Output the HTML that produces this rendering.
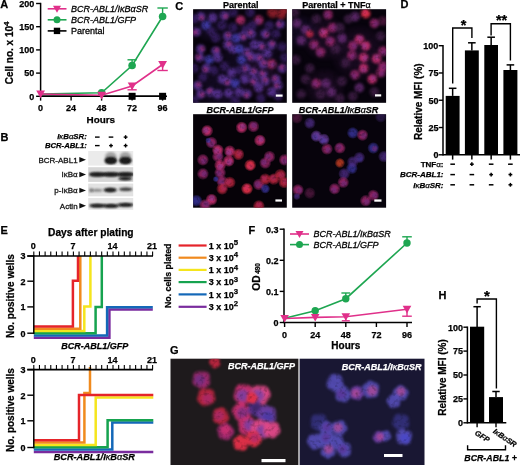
<!DOCTYPE html>
<html lang="en"><head><meta charset="utf-8"><title>Figure</title>
<style>
html,body{margin:0;padding:0;background:#fff;}
body{width:520px;height:465px;overflow:hidden;}
svg{display:block;font-family:"Liberation Sans",Arial,Helvetica,sans-serif;}
</style></head><body>
<svg width="520" height="465" viewBox="0 0 520 465">
<defs>
<filter id="b1" x="-50%" y="-50%" width="200%" height="200%"><feGaussianBlur stdDeviation="1.1"/></filter>
<filter id="b2" x="-50%" y="-50%" width="200%" height="200%"><feGaussianBlur stdDeviation="1.6"/></filter>
<filter id="b3" x="-50%" y="-50%" width="200%" height="200%"><feGaussianBlur stdDeviation="0.8"/></filter>
<filter id="nzA" filterUnits="userSpaceOnUse" x="185" y="0" width="210" height="215" color-interpolation-filters="sRGB">
<feGaussianBlur in="SourceGraphic" stdDeviation="0.9" result="b"/>
<feTurbulence type="fractalNoise" baseFrequency="0.3" numOctaves="2" seed="4" result="t"/>
<feColorMatrix in="t" type="matrix" values="0.8 0 0 0 0.58  0.8 0 0 0 0.58  0.8 0 0 0 0.58  0 0 0 0 1" result="n"/>
<feComposite in="b" in2="n" operator="arithmetic" k1="1" k2="0" k3="0" k4="0"/>
</filter>
<filter id="nzB" filterUnits="userSpaceOnUse" x="185" y="0" width="210" height="215" color-interpolation-filters="sRGB">
<feGaussianBlur in="SourceGraphic" stdDeviation="0.7" result="b"/>
<feTurbulence type="fractalNoise" baseFrequency="0.3" numOctaves="2" seed="9" result="t"/>
<feColorMatrix in="t" type="matrix" values="0.8 0 0 0 0.58  0.8 0 0 0 0.58  0.8 0 0 0 0.58  0 0 0 0 1" result="n"/>
<feComposite in="b" in2="n" operator="arithmetic" k1="1" k2="0" k3="0" k4="0"/>
</filter>
<filter id="nzG" filterUnits="userSpaceOnUse" x="160" y="350" width="275" height="120" color-interpolation-filters="sRGB">
<feGaussianBlur in="SourceGraphic" stdDeviation="0.9" result="b"/>
<feTurbulence type="fractalNoise" baseFrequency="0.25" numOctaves="2" seed="5" result="t"/>
<feColorMatrix in="t" type="matrix" values="0.7 0 0 0 0.65  0.7 0 0 0 0.65  0.7 0 0 0 0.65  0 0 0 0 1" result="n"/>
<feComposite in="b" in2="n" operator="arithmetic" k1="1" k2="0" k3="0" k4="0"/>
</filter>
<filter id="bb" x="-20%" y="-50%" width="140%" height="200%"><feGaussianBlur stdDeviation="0.9"/></filter>
<clipPath id="c1"><rect x="193.1" y="9.2" width="93.7" height="93.6"/></clipPath>
<clipPath id="c2"><rect x="292.2" y="9.2" width="93.9" height="93.6"/></clipPath>
<clipPath id="c3"><rect x="193.1" y="114.2" width="93.7" height="93.5"/></clipPath>
<clipPath id="c4"><rect x="292.2" y="114.2" width="93.9" height="93.5"/></clipPath>
<clipPath id="g1"><rect x="170.5" y="358.7" width="127.9" height="107"/></clipPath>
<clipPath id="g2"><rect x="299.6" y="358.7" width="124.9" height="107"/></clipPath>
</defs>
<rect x="0" y="0" width="520" height="465" fill="#fff"/>

<g id="panelA">
<text x="0.3" y="8.3" font-size="11" font-weight="bold" font-style="normal" text-anchor="start" fill="#000" stroke="#000" stroke-width="0.25">A</text>
<line x1="40.6" y1="2.8" x2="40.6" y2="97.05" stroke="#000" stroke-width="1.5" stroke-linecap="butt"/>
<line x1="40.6" y1="96.3" x2="167" y2="96.3" stroke="#000" stroke-width="1.5" stroke-linecap="butt"/>
<line x1="36.1" y1="3.5" x2="40.6" y2="3.5" stroke="#000" stroke-width="1.4" stroke-linecap="butt"/>
<text x="34.300000000000004" y="6.8" font-size="9" font-weight="bold" font-style="normal" text-anchor="end" fill="#000" stroke="#000" stroke-width="0.25">200</text>
<line x1="36.1" y1="26.7" x2="40.6" y2="26.7" stroke="#000" stroke-width="1.4" stroke-linecap="butt"/>
<text x="34.300000000000004" y="30.0" font-size="9" font-weight="bold" font-style="normal" text-anchor="end" fill="#000" stroke="#000" stroke-width="0.25">150</text>
<line x1="36.1" y1="49.9" x2="40.6" y2="49.9" stroke="#000" stroke-width="1.4" stroke-linecap="butt"/>
<text x="34.300000000000004" y="53.199999999999996" font-size="9" font-weight="bold" font-style="normal" text-anchor="end" fill="#000" stroke="#000" stroke-width="0.25">100</text>
<line x1="36.1" y1="73.1" x2="40.6" y2="73.1" stroke="#000" stroke-width="1.4" stroke-linecap="butt"/>
<text x="34.300000000000004" y="76.39999999999999" font-size="9" font-weight="bold" font-style="normal" text-anchor="end" fill="#000" stroke="#000" stroke-width="0.25">50</text>
<line x1="36.1" y1="96.3" x2="40.6" y2="96.3" stroke="#000" stroke-width="1.4" stroke-linecap="butt"/>
<text x="34.300000000000004" y="99.6" font-size="9" font-weight="bold" font-style="normal" text-anchor="end" fill="#000" stroke="#000" stroke-width="0.25">0</text>
<line x1="40.6" y1="96.3" x2="40.6" y2="100.6" stroke="#000" stroke-width="1.4" stroke-linecap="butt"/>
<text x="40.6" y="111.2" font-size="9" font-weight="bold" font-style="normal" text-anchor="middle" fill="#000" stroke="#000" stroke-width="0.25">0</text>
<line x1="71.1" y1="96.3" x2="71.1" y2="100.6" stroke="#000" stroke-width="1.4" stroke-linecap="butt"/>
<text x="71.1" y="111.2" font-size="9" font-weight="bold" font-style="normal" text-anchor="middle" fill="#000" stroke="#000" stroke-width="0.25">24</text>
<line x1="101.6" y1="96.3" x2="101.6" y2="100.6" stroke="#000" stroke-width="1.4" stroke-linecap="butt"/>
<text x="101.6" y="111.2" font-size="9" font-weight="bold" font-style="normal" text-anchor="middle" fill="#000" stroke="#000" stroke-width="0.25">48</text>
<line x1="132.1" y1="96.3" x2="132.1" y2="100.6" stroke="#000" stroke-width="1.4" stroke-linecap="butt"/>
<text x="132.1" y="111.2" font-size="9" font-weight="bold" font-style="normal" text-anchor="middle" fill="#000" stroke="#000" stroke-width="0.25">72</text>
<line x1="162.6" y1="96.3" x2="162.6" y2="100.6" stroke="#000" stroke-width="1.4" stroke-linecap="butt"/>
<text x="162.6" y="111.2" font-size="9" font-weight="bold" font-style="normal" text-anchor="middle" fill="#000" stroke="#000" stroke-width="0.25">96</text>
<text x="100.8" y="122.8" font-size="9.9" font-weight="bold" font-style="normal" text-anchor="middle" fill="#000" stroke="#000" stroke-width="0.25">Hours</text>
<text transform="translate(13.3 84.3) rotate(-90)" font-size="10" font-weight="bold" stroke="#000" stroke-width="0.25">Cell no. x 10<tspan dy="-4.6" font-size="8">4</tspan></text>
<line x1="40.6" y1="96.3" x2="162.6" y2="96.3" stroke="#000" stroke-width="1.5" stroke-linecap="butt"/>
<rect x="128.6" y="92.8" width="7" height="7" fill="#000"/>
<rect x="159.1" y="92.8" width="7" height="7" fill="#000"/>
<polyline points="40.6,94.0 101.6,92.8 132.1,65.5 162.6,16.5" fill="none" stroke="#1ea651" stroke-width="1.6" stroke-linejoin="miter" stroke-linecap="butt"/>
<line x1="132.1" y1="65.5" x2="132.1" y2="59.8" stroke="#1ea651" stroke-width="1.4" stroke-linecap="butt"/>
<line x1="127.5" y1="59.8" x2="136.7" y2="59.8" stroke="#1ea651" stroke-width="1.4" stroke-linecap="butt"/>
<line x1="162.6" y1="16.5" x2="162.6" y2="8" stroke="#1ea651" stroke-width="1.4" stroke-linecap="butt"/>
<line x1="157.4" y1="8" x2="167.79999999999998" y2="8" stroke="#1ea651" stroke-width="1.4" stroke-linecap="butt"/>
<circle cx="101.6" cy="92.8" r="3.8" fill="#1ea651"/>
<circle cx="132.1" cy="65.5" r="3.8" fill="#1ea651"/>
<circle cx="162.6" cy="16.5" r="3.8" fill="#1ea651"/>
<polyline points="40.6,94.0 101.6,95.2 132.1,86 162.6,64.5" fill="none" stroke="#e0308a" stroke-width="1.6" stroke-linejoin="miter" stroke-linecap="butt"/>
<line x1="132.1" y1="86" x2="132.1" y2="89.8" stroke="#e0308a" stroke-width="1.4" stroke-linecap="butt"/>
<line x1="127.5" y1="89.8" x2="136.7" y2="89.8" stroke="#e0308a" stroke-width="1.4" stroke-linecap="butt"/>
<line x1="162.6" y1="64.5" x2="162.6" y2="70.5" stroke="#e0308a" stroke-width="1.4" stroke-linecap="butt"/>
<line x1="157.4" y1="70.5" x2="167.79999999999998" y2="70.5" stroke="#e0308a" stroke-width="1.4" stroke-linecap="butt"/>
<polygon points="36.2,90.48 45.0,90.48 40.6,98.18" fill="#e0308a"/>
<polygon points="97.19999999999999,91.68 106.0,91.68 101.6,99.38" fill="#e0308a"/>
<polygon points="127.69999999999999,82.48 136.5,82.48 132.1,90.18" fill="#e0308a"/>
<polygon points="158.2,60.98 167.0,60.98 162.6,68.68" fill="#e0308a"/>
<line x1="47.7" y1="8.8" x2="66.5" y2="8.8" stroke="#e0308a" stroke-width="1.6" stroke-linecap="butt"/>
<line x1="47.7" y1="19.8" x2="66.5" y2="19.8" stroke="#1ea651" stroke-width="1.6" stroke-linecap="butt"/>
<line x1="47.7" y1="30.9" x2="66.5" y2="30.9" stroke="#000" stroke-width="1.6" stroke-linecap="butt"/>
<polygon points="53.0,5.8 61.0,5.8 57,12.8" fill="#e0308a"/>
<circle cx="57" cy="19.8" r="3.5" fill="#1ea651"/>
<rect x="53.8" y="27.7" width="6.4" height="6.4" fill="#000"/>
<text x="71" y="12.0" font-size="9" font-weight="normal" font-style="italic" text-anchor="start" fill="#000" stroke="#000" stroke-width="0.28">BCR-ABL1/I&#954;B&#945;SR</text>
<text x="71" y="23.0" font-size="9" font-weight="normal" font-style="italic" text-anchor="start" fill="#000" stroke="#000" stroke-width="0.28">BCR-ABL1/GFP</text>
<text x="71" y="34.2" font-size="9" font-weight="normal" font-style="normal" text-anchor="start" fill="#000" stroke="#000" stroke-width="0.28">Parental</text>
</g>
<clipPath id="cb"><rect x="88.2" y="151.0" width="45" height="14.6"/><rect x="88.2" y="167.2" width="45" height="14.7"/><rect x="88.2" y="183.6" width="45" height="12.7"/><rect x="88.2" y="198.0" width="45" height="11.8"/></clipPath>
<g id="panelB">
<text x="0.4" y="141.3" font-size="11" font-weight="bold" font-style="normal" text-anchor="start" fill="#000" stroke="#000" stroke-width="0.25">B</text>
<text x="86.8" y="139.3" font-size="7.8" font-weight="bold" font-style="italic" text-anchor="end" fill="#000" stroke="#000" stroke-width="0.25">I<tspan font-weight="normal">&#954;</tspan>B<tspan font-weight="normal">&#945;</tspan>SR:</text>
<text x="86.8" y="148.4" font-size="7.7" font-weight="bold" font-style="italic" text-anchor="end" fill="#000" stroke="#000" stroke-width="0.25">BCR-ABL1:</text>
<line x1="95.0" y1="137.1" x2="99.6" y2="137.1" stroke="#000" stroke-width="1.4" stroke-linecap="butt"/>
<line x1="108.7" y1="137.1" x2="113.3" y2="137.1" stroke="#000" stroke-width="1.4" stroke-linecap="butt"/>
<line x1="123.69999999999999" y1="137.1" x2="127.5" y2="137.1" stroke="#000" stroke-width="1.4" stroke-linecap="butt"/>
<line x1="125.6" y1="135.2" x2="125.6" y2="139.0" stroke="#000" stroke-width="1.4" stroke-linecap="butt"/>
<line x1="95.0" y1="145.6" x2="99.6" y2="145.6" stroke="#000" stroke-width="1.4" stroke-linecap="butt"/>
<line x1="109.1" y1="145.6" x2="112.9" y2="145.6" stroke="#000" stroke-width="1.4" stroke-linecap="butt"/>
<line x1="111.0" y1="143.7" x2="111.0" y2="147.5" stroke="#000" stroke-width="1.4" stroke-linecap="butt"/>
<line x1="123.69999999999999" y1="145.6" x2="127.5" y2="145.6" stroke="#000" stroke-width="1.4" stroke-linecap="butt"/>
<line x1="125.6" y1="143.7" x2="125.6" y2="147.5" stroke="#000" stroke-width="1.4" stroke-linecap="butt"/>
<rect x="88.2" y="151.0" width="45" height="14.6" fill="#ebebeb"/>
<polygon points="79.3,157.10000000000002 86,159.8 79.3,162.5" fill="#111"/>
<text x="77.6" y="162.60000000000002" font-size="8" font-weight="normal" font-style="normal" text-anchor="end" fill="#111" stroke="#111" stroke-width="0.28">BCR-ABL1</text>
<rect x="88.2" y="167.2" width="45" height="14.7" fill="#d6d6d6"/>
<polygon points="79.3,171.8 86,174.5 79.3,177.2" fill="#111"/>
<text x="77.6" y="177.3" font-size="8" font-weight="normal" font-style="normal" text-anchor="end" fill="#111" stroke="#111" stroke-width="0.28">I&#954;B&#945;</text>
<rect x="88.2" y="183.6" width="45" height="12.7" fill="#e2e2e2"/>
<polygon points="79.3,187.70000000000002 86,190.4 79.3,193.1" fill="#111"/>
<text x="77.6" y="193.20000000000002" font-size="8" font-weight="normal" font-style="normal" text-anchor="end" fill="#111" stroke="#111" stroke-width="0.28">p-I&#954;B&#945;</text>
<rect x="88.2" y="198.0" width="45" height="11.8" fill="#e6e6e6"/>
<polygon points="79.3,203.0 86,205.7 79.3,208.39999999999998" fill="#111"/>
<text x="77.6" y="208.5" font-size="8" font-weight="normal" font-style="normal" text-anchor="end" fill="#111" stroke="#111" stroke-width="0.28">Actin</text>
<g clip-path="url(#cb)">
<ellipse cx="110.8" cy="157" rx="5.75" ry="5.0" fill="#1a1a1a" opacity="0.35" filter="url(#bb)"/>
<ellipse cx="125.4" cy="157" rx="5.75" ry="5.0" fill="#1a1a1a" opacity="0.35" filter="url(#bb)"/>
<ellipse cx="110.8" cy="160.6" rx="6.25" ry="3.7" fill="#1a1a1a" opacity="1.0" filter="url(#bb)"/>
<ellipse cx="110.8" cy="160.8" rx="5.0" ry="2.5" fill="#1a1a1a" opacity="0.9" filter="url(#bb)"/>
<ellipse cx="125.4" cy="160.6" rx="6.25" ry="3.7" fill="#1a1a1a" opacity="1.0" filter="url(#bb)"/>
<ellipse cx="125.4" cy="160.8" rx="5.0" ry="2.5" fill="#1a1a1a" opacity="0.9" filter="url(#bb)"/>
<ellipse cx="97.3" cy="174.4" rx="8.5" ry="2.2" fill="#1a1a1a" opacity="1.0" filter="url(#bb)"/>
<ellipse cx="97.3" cy="174.4" rx="7.0" ry="1.5" fill="#1a1a1a" opacity="0.9" filter="url(#bb)"/>
<ellipse cx="111.0" cy="174.4" rx="8.5" ry="2.2" fill="#1a1a1a" opacity="1.0" filter="url(#bb)"/>
<ellipse cx="111.0" cy="174.4" rx="7.0" ry="1.5" fill="#1a1a1a" opacity="0.9" filter="url(#bb)"/>
<ellipse cx="125.6" cy="174.4" rx="8.5" ry="2.2" fill="#1a1a1a" opacity="1.0" filter="url(#bb)"/>
<ellipse cx="125.6" cy="174.4" rx="7.0" ry="1.5" fill="#1a1a1a" opacity="0.9" filter="url(#bb)"/>
<ellipse cx="125.2" cy="178.6" rx="7.0" ry="1.6" fill="#1a1a1a" opacity="0.95" filter="url(#bb)"/>
<ellipse cx="125.2" cy="178.6" rx="5.5" ry="1.0" fill="#1a1a1a" opacity="0.8" filter="url(#bb)"/>
<ellipse cx="97" cy="190.3" rx="5.5" ry="1.5" fill="#1a1a1a" opacity="0.45" filter="url(#bb)"/>
<ellipse cx="91" cy="190.3" rx="2.0" ry="2.0" fill="#1a1a1a" opacity="0.5" filter="url(#bb)"/>
<ellipse cx="110.2" cy="190.0" rx="6.75" ry="2.2" fill="#1a1a1a" opacity="0.95" filter="url(#bb)"/>
<ellipse cx="110.2" cy="190.0" rx="5.0" ry="1.3" fill="#1a1a1a" opacity="0.7" filter="url(#bb)"/>
<ellipse cx="125.8" cy="189.2" rx="6.75" ry="1.8" fill="#1a1a1a" opacity="0.85" filter="url(#bb)"/>
<ellipse cx="97.3" cy="205.6" rx="8.25" ry="1.9" fill="#1a1a1a" opacity="0.95" filter="url(#bb)"/>
<ellipse cx="97.3" cy="205.6" rx="6.5" ry="1.2" fill="#1a1a1a" opacity="0.8" filter="url(#bb)"/>
<ellipse cx="111.0" cy="205.8" rx="8.25" ry="1.9" fill="#1a1a1a" opacity="0.95" filter="url(#bb)"/>
<ellipse cx="111.0" cy="205.8" rx="6.5" ry="1.2" fill="#1a1a1a" opacity="0.8" filter="url(#bb)"/>
<ellipse cx="125.6" cy="204.8" rx="8.25" ry="1.9" fill="#1a1a1a" opacity="0.95" filter="url(#bb)"/>
<ellipse cx="125.6" cy="204.8" rx="6.5" ry="1.2" fill="#1a1a1a" opacity="0.8" filter="url(#bb)"/>
</g>
</g>
<defs>
<radialGradient id="gp"><stop offset="0" stop-color="#53308f" stop-opacity="0.75"/><stop offset="0.5" stop-color="#53308f" stop-opacity="0.68"/><stop offset="0.8" stop-color="#53308f" stop-opacity="0.34"/><stop offset="1" stop-color="#53308f" stop-opacity="0"/></radialGradient>
<radialGradient id="gpU"><stop offset="0" stop-color="#7040a8" stop-opacity="0.9"/><stop offset="0.5" stop-color="#7040a8" stop-opacity="0.81"/><stop offset="0.8" stop-color="#7040a8" stop-opacity="0.41"/><stop offset="1" stop-color="#7040a8" stop-opacity="0"/></radialGradient>
<radialGradient id="gb"><stop offset="0" stop-color="#3d38a8" stop-opacity="0.8"/><stop offset="0.5" stop-color="#3d38a8" stop-opacity="0.72"/><stop offset="0.8" stop-color="#3d38a8" stop-opacity="0.36"/><stop offset="1" stop-color="#3d38a8" stop-opacity="0"/></radialGradient>
<radialGradient id="gbU"><stop offset="0" stop-color="#4a48cc" stop-opacity="0.95"/><stop offset="0.5" stop-color="#4a48cc" stop-opacity="0.85"/><stop offset="0.8" stop-color="#4a48cc" stop-opacity="0.43"/><stop offset="1" stop-color="#4a48cc" stop-opacity="0"/></radialGradient>
<radialGradient id="gm"><stop offset="0" stop-color="#a82a74" stop-opacity="0.85"/><stop offset="0.5" stop-color="#a82a74" stop-opacity="0.77"/><stop offset="0.8" stop-color="#a82a74" stop-opacity="0.38"/><stop offset="1" stop-color="#a82a74" stop-opacity="0"/></radialGradient>
<radialGradient id="gmU"><stop offset="0" stop-color="#cc3072" stop-opacity="0.95"/><stop offset="0.5" stop-color="#cc3072" stop-opacity="0.85"/><stop offset="0.8" stop-color="#cc3072" stop-opacity="0.43"/><stop offset="1" stop-color="#cc3072" stop-opacity="0"/></radialGradient>
<radialGradient id="gr"><stop offset="0" stop-color="#c02640" stop-opacity="0.9"/><stop offset="0.5" stop-color="#c02640" stop-opacity="0.81"/><stop offset="0.8" stop-color="#c02640" stop-opacity="0.41"/><stop offset="1" stop-color="#c02640" stop-opacity="0"/></radialGradient>
<radialGradient id="grU"><stop offset="0" stop-color="#e03048" stop-opacity="1.0"/><stop offset="0.5" stop-color="#e03048" stop-opacity="0.90"/><stop offset="0.8" stop-color="#e03048" stop-opacity="0.45"/><stop offset="1" stop-color="#e03048" stop-opacity="0"/></radialGradient>
<radialGradient id="gd"><stop offset="0" stop-color="#35205c" stop-opacity="0.7"/><stop offset="0.5" stop-color="#35205c" stop-opacity="0.63"/><stop offset="0.8" stop-color="#35205c" stop-opacity="0.32"/><stop offset="1" stop-color="#35205c" stop-opacity="0"/></radialGradient>
<radialGradient id="gk"><stop offset="0" stop-color="#5c1c48" stop-opacity="0.75"/><stop offset="0.5" stop-color="#5c1c48" stop-opacity="0.68"/><stop offset="0.8" stop-color="#5c1c48" stop-opacity="0.34"/><stop offset="1" stop-color="#5c1c48" stop-opacity="0"/></radialGradient>
<radialGradient id="go"><stop offset="0" stop-color="#b83a22" stop-opacity="0.95"/><stop offset="0.5" stop-color="#b83a22" stop-opacity="0.85"/><stop offset="0.8" stop-color="#b83a22" stop-opacity="0.43"/><stop offset="1" stop-color="#b83a22" stop-opacity="0"/></radialGradient>
<radialGradient id="gn"><stop offset="0" stop-color="#2a2870" stop-opacity="0.8"/><stop offset="0.5" stop-color="#2a2870" stop-opacity="0.72"/><stop offset="0.8" stop-color="#2a2870" stop-opacity="0.36"/><stop offset="1" stop-color="#2a2870" stop-opacity="0"/></radialGradient>
<radialGradient id="gkU"><stop offset="0" stop-color="#e04888" stop-opacity="0.95"/><stop offset="0.5" stop-color="#e04888" stop-opacity="0.85"/><stop offset="0.8" stop-color="#e04888" stop-opacity="0.43"/><stop offset="1" stop-color="#e04888" stop-opacity="0"/></radialGradient>
<radialGradient id="gy"><stop offset="0" stop-color="#6e2e7c" stop-opacity="0.8"/><stop offset="0.5" stop-color="#6e2e7c" stop-opacity="0.72"/><stop offset="0.8" stop-color="#6e2e7c" stop-opacity="0.36"/><stop offset="1" stop-color="#6e2e7c" stop-opacity="0"/></radialGradient>
<radialGradient id="gz"><stop offset="0" stop-color="#48224f" stop-opacity="0.75"/><stop offset="0.5" stop-color="#48224f" stop-opacity="0.68"/><stop offset="0.8" stop-color="#48224f" stop-opacity="0.34"/><stop offset="1" stop-color="#48224f" stop-opacity="0"/></radialGradient>
<radialGradient id="gh"><stop offset="0" stop-color="#5a2468" stop-opacity="0.22"/><stop offset="0.5" stop-color="#5a2468" stop-opacity="0.20"/><stop offset="0.8" stop-color="#5a2468" stop-opacity="0.10"/><stop offset="1" stop-color="#5a2468" stop-opacity="0"/></radialGradient>
<radialGradient id="ghU"><stop offset="0" stop-color="#3c2470" stop-opacity="0.22"/><stop offset="0.5" stop-color="#3c2470" stop-opacity="0.20"/><stop offset="0.8" stop-color="#3c2470" stop-opacity="0.10"/><stop offset="1" stop-color="#3c2470" stop-opacity="0"/></radialGradient>
<radialGradient id="gu"><stop offset="0" stop-color="#544cb4" stop-opacity="0.9"/><stop offset="0.5" stop-color="#544cb4" stop-opacity="0.81"/><stop offset="0.8" stop-color="#544cb4" stop-opacity="0.41"/><stop offset="1" stop-color="#544cb4" stop-opacity="0"/></radialGradient>
<radialGradient id="gv"><stop offset="0" stop-color="#34317e" stop-opacity="0.8"/><stop offset="0.5" stop-color="#34317e" stop-opacity="0.72"/><stop offset="0.8" stop-color="#34317e" stop-opacity="0.36"/><stop offset="1" stop-color="#34317e" stop-opacity="0"/></radialGradient>
<radialGradient id="gw"><stop offset="0" stop-color="#b24a96" stop-opacity="0.9"/><stop offset="0.5" stop-color="#b24a96" stop-opacity="0.81"/><stop offset="0.8" stop-color="#b24a96" stop-opacity="0.41"/><stop offset="1" stop-color="#b24a96" stop-opacity="0"/></radialGradient>
<radialGradient id="gq"><stop offset="0" stop-color="#5b3498" stop-opacity="0.9"/><stop offset="0.5" stop-color="#5b3498" stop-opacity="0.81"/><stop offset="0.8" stop-color="#5b3498" stop-opacity="0.41"/><stop offset="1" stop-color="#5b3498" stop-opacity="0"/></radialGradient>
<radialGradient id="gx"><stop offset="0" stop-color="#a0222e" stop-opacity="0.85"/><stop offset="0.5" stop-color="#a0222e" stop-opacity="0.77"/><stop offset="0.8" stop-color="#a0222e" stop-opacity="0.38"/><stop offset="1" stop-color="#a0222e" stop-opacity="0"/></radialGradient>
<radialGradient id="ge"><stop offset="0" stop-color="#3a2068" stop-opacity="0.8"/><stop offset="0.5" stop-color="#3a2068" stop-opacity="0.72"/><stop offset="0.8" stop-color="#3a2068" stop-opacity="0.36"/><stop offset="1" stop-color="#3a2068" stop-opacity="0"/></radialGradient>
<radialGradient id="gc"><stop offset="0" stop-color="#4640b8" stop-opacity="0.85"/><stop offset="0.5" stop-color="#4640b8" stop-opacity="0.77"/><stop offset="0.8" stop-color="#4640b8" stop-opacity="0.38"/><stop offset="1" stop-color="#4640b8" stop-opacity="0"/></radialGradient>
<radialGradient id="gj"><stop offset="0" stop-color="#b02c6a" stop-opacity="0.9"/><stop offset="0.5" stop-color="#b02c6a" stop-opacity="0.81"/><stop offset="0.8" stop-color="#b02c6a" stop-opacity="0.41"/><stop offset="1" stop-color="#b02c6a" stop-opacity="0"/></radialGradient>
</defs>
<rect x="193.1" y="9.2" width="93.70000000000002" height="93.6" fill="#07030c"/>
<g clip-path="url(#c1)"><g filter="url(#nzA)">
<circle cx="250.2" cy="49.0" r="35.1" fill="url(#ghU)"/>
<circle cx="222.2" cy="87.7" r="29.3" fill="url(#ghU)"/>
<circle cx="260.9" cy="76.9" r="23.4" fill="url(#gh)"/>
<circle cx="211.5" cy="23.2" r="20.5" fill="url(#ghU)"/>
<circle cx="200.7" cy="16.7" r="5.9" fill="url(#gq)"/>
<circle cx="201.6" cy="17.9" r="3.4" fill="url(#gj)" opacity="0.60"/>
<circle cx="212.6" cy="17.8" r="5.9" fill="url(#gq)"/>
<circle cx="224.4" cy="15.7" r="5.9" fill="url(#gq)"/>
<circle cx="225.7" cy="16.3" r="3.4" fill="url(#gj)" opacity="0.60"/>
<circle cx="240.5" cy="20.0" r="5.9" fill="url(#gj)"/>
<circle cx="239.1" cy="19.6" r="3.4" fill="url(#gj)" opacity="0.60"/>
<circle cx="258.8" cy="20.0" r="5.9" fill="url(#gj)"/>
<circle cx="257.8" cy="21.0" r="3.4" fill="url(#gq)" opacity="0.60"/>
<circle cx="272.8" cy="12.4" r="7.0" fill="url(#gx)"/>
<circle cx="281.4" cy="14.6" r="5.9" fill="url(#gx)"/>
<circle cx="280.3" cy="24.3" r="5.9" fill="url(#gq)"/>
<circle cx="278.9" cy="24.2" r="3.4" fill="url(#gj)" opacity="0.60"/>
<circle cx="284.6" cy="9.2" r="5.9" fill="url(#gx)"/>
<circle cx="196.4" cy="31.8" r="5.9" fill="url(#gq)"/>
<circle cx="195.1" cy="32.4" r="3.4" fill="url(#gj)" opacity="0.60"/>
<circle cx="206.1" cy="25.3" r="5.9" fill="url(#gc)"/>
<circle cx="245.9" cy="29.6" r="5.9" fill="url(#ge)"/>
<circle cx="265.2" cy="33.9" r="5.9" fill="url(#gq)"/>
<circle cx="266.5" cy="34.7" r="3.4" fill="url(#gj)" opacity="0.60"/>
<circle cx="276.0" cy="33.9" r="5.9" fill="url(#ge)"/>
<circle cx="233.0" cy="27.5" r="5.9" fill="url(#ge)"/>
<circle cx="252.3" cy="25.3" r="5.9" fill="url(#ge)"/>
<circle cx="227.6" cy="36.1" r="5.9" fill="url(#gq)"/>
<circle cx="228.3" cy="34.8" r="3.4" fill="url(#gj)" opacity="0.60"/>
<circle cx="236.2" cy="38.2" r="5.9" fill="url(#gc)"/>
<circle cx="242.7" cy="36.1" r="5.9" fill="url(#gq)"/>
<circle cx="243.7" cy="37.1" r="3.4" fill="url(#gj)" opacity="0.60"/>
<circle cx="251.3" cy="33.9" r="5.9" fill="url(#gq)"/>
<circle cx="250.3" cy="32.9" r="3.4" fill="url(#gj)" opacity="0.60"/>
<circle cx="227.6" cy="44.7" r="5.9" fill="url(#gq)"/>
<circle cx="229.0" cy="44.2" r="3.4" fill="url(#gj)" opacity="0.60"/>
<circle cx="233.0" cy="49.0" r="5.9" fill="url(#gq)"/>
<circle cx="200.7" cy="49.0" r="5.9" fill="url(#gq)"/>
<circle cx="202.2" cy="48.8" r="3.4" fill="url(#gj)" opacity="0.60"/>
<circle cx="215.8" cy="51.1" r="5.9" fill="url(#gq)"/>
<circle cx="216.7" cy="50.0" r="3.4" fill="url(#gj)" opacity="0.60"/>
<circle cx="239.4" cy="49.0" r="5.9" fill="url(#gc)"/>
<circle cx="247.0" cy="52.2" r="5.9" fill="url(#gq)"/>
<circle cx="247.9" cy="53.3" r="3.4" fill="url(#gj)" opacity="0.60"/>
<circle cx="260.9" cy="45.8" r="5.9" fill="url(#gq)"/>
<circle cx="262.0" cy="46.7" r="3.4" fill="url(#gj)" opacity="0.60"/>
<circle cx="271.7" cy="44.7" r="5.9" fill="url(#gq)"/>
<circle cx="272.3" cy="43.4" r="3.4" fill="url(#gj)" opacity="0.60"/>
<circle cx="282.4" cy="46.8" r="5.9" fill="url(#ge)"/>
<circle cx="199.7" cy="57.6" r="5.9" fill="url(#gq)"/>
<circle cx="198.4" cy="56.9" r="3.4" fill="url(#gj)" opacity="0.60"/>
<circle cx="209.3" cy="59.7" r="5.9" fill="url(#gc)"/>
<circle cx="217.9" cy="57.6" r="5.9" fill="url(#gq)"/>
<circle cx="241.6" cy="59.7" r="5.9" fill="url(#gc)"/>
<circle cx="251.3" cy="56.5" r="5.9" fill="url(#gq)"/>
<circle cx="250.3" cy="57.5" r="3.4" fill="url(#gj)" opacity="0.60"/>
<circle cx="258.8" cy="57.6" r="5.9" fill="url(#gq)"/>
<circle cx="260.1" cy="58.1" r="3.4" fill="url(#gj)" opacity="0.60"/>
<circle cx="271.7" cy="64.0" r="5.9" fill="url(#gj)"/>
<circle cx="273.0" cy="64.6" r="3.4" fill="url(#gq)" opacity="0.60"/>
<circle cx="282.4" cy="68.3" r="5.9" fill="url(#gq)"/>
<circle cx="281.8" cy="67.0" r="3.4" fill="url(#gj)" opacity="0.60"/>
<circle cx="206.1" cy="68.3" r="5.9" fill="url(#gq)"/>
<circle cx="205.5" cy="69.7" r="3.4" fill="url(#gj)" opacity="0.60"/>
<circle cx="213.6" cy="70.5" r="5.9" fill="url(#ge)"/>
<circle cx="231.9" cy="72.6" r="5.9" fill="url(#gq)"/>
<circle cx="245.9" cy="68.3" r="5.9" fill="url(#gq)"/>
<circle cx="244.5" cy="68.8" r="3.4" fill="url(#gj)" opacity="0.60"/>
<circle cx="253.4" cy="72.6" r="5.9" fill="url(#gq)"/>
<circle cx="253.8" cy="71.3" r="3.4" fill="url(#gj)" opacity="0.60"/>
<circle cx="263.1" cy="74.8" r="5.9" fill="url(#gq)"/>
<circle cx="262.6" cy="73.4" r="3.4" fill="url(#gj)" opacity="0.60"/>
<circle cx="276.0" cy="79.1" r="5.9" fill="url(#gq)"/>
<circle cx="274.7" cy="78.4" r="3.4" fill="url(#gj)" opacity="0.60"/>
<circle cx="197.5" cy="85.5" r="5.9" fill="url(#gq)"/>
<circle cx="198.5" cy="84.5" r="3.4" fill="url(#gj)" opacity="0.60"/>
<circle cx="222.2" cy="79.1" r="5.9" fill="url(#gq)"/>
<circle cx="227.6" cy="81.2" r="5.9" fill="url(#gq)"/>
<circle cx="227.3" cy="82.6" r="3.4" fill="url(#gj)" opacity="0.60"/>
<circle cx="235.1" cy="83.4" r="5.9" fill="url(#gc)"/>
<circle cx="244.8" cy="79.1" r="5.9" fill="url(#gq)"/>
<circle cx="254.5" cy="81.2" r="5.9" fill="url(#gq)"/>
<circle cx="253.2" cy="82.0" r="3.4" fill="url(#gj)" opacity="0.60"/>
<circle cx="265.2" cy="81.2" r="5.9" fill="url(#gq)"/>
<circle cx="265.3" cy="79.8" r="3.4" fill="url(#gj)" opacity="0.60"/>
<circle cx="278.1" cy="85.5" r="5.9" fill="url(#gq)"/>
<circle cx="276.7" cy="85.6" r="3.4" fill="url(#gj)" opacity="0.60"/>
<circle cx="200.7" cy="94.1" r="5.9" fill="url(#gq)"/>
<circle cx="202.1" cy="94.5" r="3.4" fill="url(#gj)" opacity="0.60"/>
<circle cx="210.4" cy="92.0" r="5.9" fill="url(#gq)"/>
<circle cx="209.7" cy="90.7" r="3.4" fill="url(#gj)" opacity="0.60"/>
<circle cx="217.9" cy="94.1" r="5.9" fill="url(#gq)"/>
<circle cx="228.7" cy="93.1" r="5.9" fill="url(#gq)"/>
<circle cx="239.4" cy="92.0" r="5.9" fill="url(#gq)"/>
<circle cx="247.0" cy="94.1" r="5.9" fill="url(#gq)"/>
<circle cx="246.4" cy="95.5" r="3.4" fill="url(#gj)" opacity="0.60"/>
<circle cx="258.8" cy="87.7" r="5.9" fill="url(#gq)"/>
<circle cx="271.7" cy="92.0" r="5.9" fill="url(#gq)"/>
<circle cx="254.5" cy="44.7" r="5.9" fill="url(#gq)"/>
<circle cx="263.1" cy="64.0" r="5.9" fill="url(#gq)"/>
<circle cx="263.9" cy="62.8" r="3.4" fill="url(#gj)" opacity="0.60"/>
<circle cx="222.2" cy="25.3" r="5.9" fill="url(#ge)"/>
<circle cx="269.5" cy="25.3" r="5.9" fill="url(#ge)"/>
<circle cx="202.9" cy="76.9" r="5.9" fill="url(#ge)"/>
<circle cx="215.8" cy="38.2" r="5.9" fill="url(#ge)"/>
<circle cx="211.5" cy="31.8" r="5.9" fill="url(#ge)"/>
<circle cx="194.3" cy="18.9" r="5.9" fill="url(#ge)"/>
<circle cx="250.2" cy="12.4" r="5.9" fill="url(#ge)"/>
<circle cx="233.0" cy="12.4" r="5.9" fill="url(#ge)"/>
<circle cx="284.6" cy="57.6" r="5.9" fill="url(#ge)"/>
<circle cx="194.3" cy="68.3" r="5.9" fill="url(#ge)"/>
<circle cx="239.4" cy="70.5" r="5.9" fill="url(#ge)"/>
<circle cx="224.4" cy="66.2" r="5.9" fill="url(#ge)"/>
<circle cx="267.4" cy="53.3" r="5.9" fill="url(#gq)"/>
<circle cx="278.1" cy="96.3" r="5.9" fill="url(#ge)"/>
<circle cx="260.9" cy="98.4" r="5.9" fill="url(#ge)"/>
<circle cx="194.3" cy="100.6" r="5.9" fill="url(#ge)"/>
<circle cx="235.1" cy="100.6" r="5.9" fill="url(#ge)"/>
</g></g>
<rect x="275.8" y="94.5" width="6.8" height="2.2" fill="#fff"/>
<rect x="292.2" y="9.2" width="93.90000000000003" height="93.6" fill="#07030c"/>
<g clip-path="url(#c2)"><g filter="url(#nzA)">
<circle cx="359.3" cy="53.3" r="29.9" fill="url(#gh)"/>
<circle cx="324.9" cy="38.2" r="23.9" fill="url(#gh)"/>
<circle cx="324.9" cy="87.7" r="20.9" fill="url(#gh)"/>
<circle cx="301.2" cy="31.8" r="17.9" fill="url(#ghU)"/>
<circle cx="328.1" cy="14.6" r="6.0" fill="url(#gm)"/>
<circle cx="326.7" cy="14.8" r="3.4" fill="url(#gp)" opacity="0.45"/>
<circle cx="355.0" cy="16.7" r="6.0" fill="url(#gy)"/>
<circle cx="365.7" cy="13.5" r="6.0" fill="url(#grU)"/>
<circle cx="365.0" cy="12.2" r="3.4" fill="url(#gmU)" opacity="0.45"/>
<circle cx="374.4" cy="23.2" r="6.0" fill="url(#gm)"/>
<circle cx="375.7" cy="23.7" r="3.4" fill="url(#gp)" opacity="0.45"/>
<circle cx="383.0" cy="21.0" r="6.0" fill="url(#gk)"/>
<circle cx="296.9" cy="23.2" r="6.0" fill="url(#gy)"/>
<circle cx="305.5" cy="29.6" r="6.0" fill="url(#gy)"/>
<circle cx="309.8" cy="33.9" r="4.8" fill="url(#gr)"/>
<circle cx="309.5" cy="32.8" r="2.7" fill="url(#gm)" opacity="0.45"/>
<circle cx="323.8" cy="32.9" r="6.0" fill="url(#gmU)"/>
<circle cx="322.9" cy="31.7" r="3.4" fill="url(#gpU)" opacity="0.45"/>
<circle cx="332.4" cy="27.5" r="6.0" fill="url(#gm)"/>
<circle cx="333.9" cy="27.4" r="3.4" fill="url(#gp)" opacity="0.45"/>
<circle cx="342.1" cy="38.2" r="6.0" fill="url(#gy)"/>
<circle cx="359.3" cy="39.3" r="6.0" fill="url(#gmU)"/>
<circle cx="359.9" cy="38.0" r="3.4" fill="url(#gpU)" opacity="0.45"/>
<circle cx="301.2" cy="40.4" r="6.0" fill="url(#gy)"/>
<circle cx="314.1" cy="44.7" r="6.0" fill="url(#gm)"/>
<circle cx="313.8" cy="46.1" r="3.4" fill="url(#gp)" opacity="0.45"/>
<circle cx="320.6" cy="52.2" r="6.0" fill="url(#gm)"/>
<circle cx="319.5" cy="53.2" r="3.4" fill="url(#gp)" opacity="0.45"/>
<circle cx="330.3" cy="41.5" r="6.0" fill="url(#gm)"/>
<circle cx="329.5" cy="40.2" r="3.4" fill="url(#gp)" opacity="0.45"/>
<circle cx="352.8" cy="45.8" r="6.0" fill="url(#gm)"/>
<circle cx="354.3" cy="46.0" r="3.4" fill="url(#gp)" opacity="0.45"/>
<circle cx="365.7" cy="45.8" r="6.0" fill="url(#gmU)"/>
<circle cx="364.3" cy="46.1" r="3.4" fill="url(#gpU)" opacity="0.45"/>
<circle cx="383.0" cy="51.1" r="6.0" fill="url(#gm)"/>
<circle cx="383.7" cy="52.4" r="3.4" fill="url(#gp)" opacity="0.45"/>
<circle cx="295.9" cy="59.7" r="6.0" fill="url(#gz)"/>
<circle cx="309.8" cy="68.3" r="6.0" fill="url(#gz)"/>
<circle cx="345.3" cy="63.0" r="6.0" fill="url(#gz)"/>
<circle cx="351.8" cy="55.4" r="6.0" fill="url(#gm)"/>
<circle cx="352.9" cy="56.4" r="3.4" fill="url(#gp)" opacity="0.45"/>
<circle cx="363.6" cy="57.6" r="6.0" fill="url(#gmU)"/>
<circle cx="365.0" cy="58.1" r="3.4" fill="url(#gpU)" opacity="0.45"/>
<circle cx="376.5" cy="58.7" r="6.0" fill="url(#gmU)"/>
<circle cx="376.7" cy="57.2" r="3.4" fill="url(#gpU)" opacity="0.45"/>
<circle cx="383.0" cy="66.2" r="6.0" fill="url(#gm)"/>
<circle cx="384.0" cy="67.3" r="3.4" fill="url(#gp)" opacity="0.45"/>
<circle cx="363.6" cy="68.3" r="6.0" fill="url(#gmU)"/>
<circle cx="363.6" cy="69.8" r="3.4" fill="url(#gpU)" opacity="0.45"/>
<circle cx="355.0" cy="74.8" r="6.0" fill="url(#gm)"/>
<circle cx="353.9" cy="75.7" r="3.4" fill="url(#gp)" opacity="0.45"/>
<circle cx="372.2" cy="79.1" r="6.0" fill="url(#gmU)"/>
<circle cx="373.2" cy="78.0" r="3.4" fill="url(#gpU)" opacity="0.45"/>
<circle cx="380.8" cy="72.6" r="6.0" fill="url(#gm)"/>
<circle cx="382.1" cy="73.4" r="3.4" fill="url(#gp)" opacity="0.45"/>
<circle cx="316.3" cy="83.4" r="6.0" fill="url(#gm)"/>
<circle cx="314.9" cy="83.9" r="3.4" fill="url(#gp)" opacity="0.45"/>
<circle cx="326.0" cy="83.4" r="6.0" fill="url(#gy)"/>
<circle cx="331.3" cy="92.0" r="6.0" fill="url(#gy)"/>
<circle cx="320.6" cy="94.1" r="6.0" fill="url(#gz)"/>
<circle cx="359.3" cy="87.7" r="6.0" fill="url(#gy)"/>
<circle cx="352.8" cy="96.3" r="6.0" fill="url(#gz)"/>
<circle cx="301.2" cy="94.1" r="6.0" fill="url(#gz)"/>
<circle cx="339.9" cy="27.5" r="6.0" fill="url(#gz)"/>
<circle cx="348.5" cy="18.9" r="6.0" fill="url(#gz)"/>
<circle cx="316.3" cy="18.9" r="6.0" fill="url(#gz)"/>
<circle cx="335.6" cy="49.0" r="6.0" fill="url(#gz)"/>
<circle cx="374.4" cy="92.0" r="6.0" fill="url(#gz)"/>
<circle cx="294.8" cy="12.4" r="6.0" fill="url(#gz)"/>
<circle cx="305.5" cy="79.1" r="6.0" fill="url(#gz)"/>
<circle cx="342.1" cy="81.2" r="6.0" fill="url(#gz)"/>
<circle cx="380.8" cy="36.1" r="6.0" fill="url(#gz)"/>
<circle cx="339.9" cy="98.4" r="6.0" fill="url(#gz)"/>
</g></g>
<rect x="375.0" y="94.3" width="6.2" height="2.2" fill="#fff"/>
<rect x="193.1" y="114.2" width="93.70000000000002" height="93.49999999999999" fill="#060208"/>
<g clip-path="url(#c3)"><g filter="url(#nzB)">
<circle cx="207.2" cy="130.8" r="6.2" fill="url(#gmU)"/>
<circle cx="205.7" cy="130.3" r="3.6" fill="url(#gpU)" opacity="0.45"/>
<circle cx="241.6" cy="127.5" r="6.2" fill="url(#gmU)"/>
<circle cx="242.7" cy="126.5" r="3.6" fill="url(#gpU)" opacity="0.45"/>
<circle cx="253.4" cy="126.5" r="6.2" fill="url(#gm)"/>
<circle cx="254.1" cy="125.1" r="3.6" fill="url(#gp)" opacity="0.45"/>
<circle cx="259.9" cy="140.4" r="6.2" fill="url(#gmU)"/>
<circle cx="260.9" cy="139.3" r="3.6" fill="url(#gpU)" opacity="0.45"/>
<circle cx="211.5" cy="142.6" r="6.2" fill="url(#gm)"/>
<circle cx="211.2" cy="144.1" r="3.6" fill="url(#gp)" opacity="0.45"/>
<circle cx="217.9" cy="150.1" r="6.2" fill="url(#gmU)"/>
<circle cx="216.6" cy="150.9" r="3.6" fill="url(#gpU)" opacity="0.45"/>
<circle cx="229.8" cy="151.2" r="6.2" fill="url(#gmU)"/>
<circle cx="228.8" cy="152.4" r="3.6" fill="url(#gpU)" opacity="0.45"/>
<circle cx="238.4" cy="154.4" r="6.2" fill="url(#gr)"/>
<circle cx="239.5" cy="153.4" r="3.6" fill="url(#gm)" opacity="0.45"/>
<circle cx="217.9" cy="156.6" r="6.2" fill="url(#gm)"/>
<circle cx="219.4" cy="156.2" r="3.6" fill="url(#gp)" opacity="0.45"/>
<circle cx="202.9" cy="159.8" r="6.2" fill="url(#gm)"/>
<circle cx="203.8" cy="161.0" r="3.6" fill="url(#gp)" opacity="0.45"/>
<circle cx="228.7" cy="160.9" r="6.2" fill="url(#gmU)"/>
<circle cx="229.4" cy="162.2" r="3.6" fill="url(#gpU)" opacity="0.45"/>
<circle cx="220.1" cy="165.2" r="6.2" fill="url(#gmU)"/>
<circle cx="220.3" cy="166.7" r="3.6" fill="url(#gpU)" opacity="0.45"/>
<circle cx="250.2" cy="165.2" r="6.2" fill="url(#grU)"/>
<circle cx="250.3" cy="166.7" r="3.6" fill="url(#gmU)" opacity="0.45"/>
<circle cx="269.5" cy="156.6" r="6.2" fill="url(#gm)"/>
<circle cx="268.0" cy="156.7" r="3.6" fill="url(#gp)" opacity="0.45"/>
<circle cx="265.2" cy="163.0" r="6.2" fill="url(#gm)"/>
<circle cx="263.9" cy="162.2" r="3.6" fill="url(#gp)" opacity="0.45"/>
<circle cx="284.6" cy="159.8" r="6.2" fill="url(#gm)"/>
<circle cx="284.5" cy="161.3" r="3.6" fill="url(#gp)" opacity="0.45"/>
<circle cx="202.9" cy="173.8" r="6.2" fill="url(#gm)"/>
<circle cx="204.4" cy="173.8" r="3.6" fill="url(#gp)" opacity="0.45"/>
<circle cx="220.1" cy="172.7" r="6.2" fill="url(#gm)"/>
<circle cx="218.7" cy="173.4" r="3.6" fill="url(#gp)" opacity="0.45"/>
<circle cx="222.2" cy="181.3" r="6.2" fill="url(#gm)"/>
<circle cx="221.2" cy="182.4" r="3.6" fill="url(#gp)" opacity="0.45"/>
<circle cx="229.8" cy="182.4" r="6.2" fill="url(#gr)"/>
<circle cx="228.4" cy="181.8" r="3.6" fill="url(#gm)" opacity="0.45"/>
<circle cx="222.2" cy="188.8" r="6.2" fill="url(#gr)"/>
<circle cx="223.7" cy="188.4" r="3.6" fill="url(#gm)" opacity="0.45"/>
<circle cx="247.0" cy="188.8" r="6.2" fill="url(#grU)"/>
<circle cx="246.4" cy="187.4" r="3.6" fill="url(#gmU)" opacity="0.45"/>
<circle cx="258.8" cy="184.5" r="6.2" fill="url(#gm)"/>
<circle cx="257.3" cy="184.4" r="3.6" fill="url(#gp)" opacity="0.45"/>
<circle cx="265.2" cy="179.1" r="6.2" fill="url(#gr)"/>
<circle cx="264.1" cy="178.1" r="3.6" fill="url(#gm)" opacity="0.45"/>
<circle cx="273.8" cy="179.1" r="6.2" fill="url(#gr)"/>
<circle cx="273.2" cy="177.8" r="3.6" fill="url(#gm)" opacity="0.45"/>
<circle cx="280.3" cy="174.8" r="6.2" fill="url(#gr)"/>
<circle cx="281.7" cy="175.4" r="3.6" fill="url(#gm)" opacity="0.45"/>
<circle cx="284.2" cy="182.4" r="6.2" fill="url(#gr)"/>
<circle cx="285.4" cy="181.5" r="3.6" fill="url(#gm)" opacity="0.45"/>
<circle cx="265.2" cy="188.8" r="5.0" fill="url(#gb)"/>
<circle cx="196.4" cy="200.7" r="6.2" fill="url(#gb)"/>
<circle cx="211.5" cy="199.6" r="6.2" fill="url(#gmU)"/>
<circle cx="211.8" cy="198.1" r="3.6" fill="url(#gpU)" opacity="0.45"/>
<circle cx="205.0" cy="205.0" r="6.2" fill="url(#gm)"/>
<circle cx="206.1" cy="203.9" r="3.6" fill="url(#gp)" opacity="0.45"/>
<circle cx="258.8" cy="206.0" r="6.2" fill="url(#gr)"/>
<circle cx="259.2" cy="204.6" r="3.6" fill="url(#gm)" opacity="0.45"/>
<circle cx="208.3" cy="140.4" r="3.1" fill="url(#gb)"/>
<circle cx="215.8" cy="179.1" r="3.1" fill="url(#gb)"/>
</g></g>
<rect x="275.4" y="199.4" width="6.6" height="2.2" fill="#fff"/>
<rect x="292.2" y="114.2" width="93.90000000000003" height="93.49999999999999" fill="#07030c"/>
<g clip-path="url(#c4)"><g filter="url(#nzB)">
<circle cx="296.9" cy="117.9" r="6.1" fill="url(#gk)"/>
<circle cx="309.8" cy="123.2" r="6.1" fill="url(#gp)"/>
<circle cx="380.8" cy="116.8" r="6.1" fill="url(#gd)"/>
<circle cx="316.3" cy="136.1" r="6.1" fill="url(#gpU)"/>
<circle cx="315.1" cy="137.1" r="3.5" fill="url(#gb)" opacity="0.45"/>
<circle cx="323.8" cy="139.4" r="6.1" fill="url(#gpU)"/>
<circle cx="322.6" cy="140.3" r="3.5" fill="url(#gb)" opacity="0.45"/>
<circle cx="327.0" cy="149.0" r="6.1" fill="url(#gm)"/>
<circle cx="328.2" cy="149.9" r="3.5" fill="url(#gp)" opacity="0.45"/>
<circle cx="339.9" cy="148.0" r="6.1" fill="url(#gm)"/>
<circle cx="338.9" cy="146.8" r="3.5" fill="url(#gp)" opacity="0.45"/>
<circle cx="352.8" cy="132.9" r="6.1" fill="url(#gb)"/>
<circle cx="362.5" cy="135.1" r="6.1" fill="url(#gm)"/>
<circle cx="363.9" cy="135.6" r="3.5" fill="url(#gp)" opacity="0.45"/>
<circle cx="373.3" cy="148.0" r="6.1" fill="url(#gb)"/>
<circle cx="374.6" cy="148.6" r="3.5" fill="url(#gm)" opacity="0.45"/>
<circle cx="384.0" cy="156.6" r="6.1" fill="url(#gp)"/>
<circle cx="359.3" cy="157.6" r="6.1" fill="url(#gp)"/>
<circle cx="359.7" cy="159.1" r="3.5" fill="url(#gb)" opacity="0.45"/>
<circle cx="339.9" cy="163.0" r="5.2" fill="url(#go)"/>
<circle cx="351.8" cy="168.4" r="6.1" fill="url(#gb)"/>
<circle cx="344.2" cy="173.8" r="6.1" fill="url(#gp)"/>
<circle cx="343.2" cy="182.4" r="6.1" fill="url(#gm)"/>
<circle cx="344.0" cy="183.7" r="3.5" fill="url(#gp)" opacity="0.45"/>
<circle cx="334.6" cy="188.8" r="6.1" fill="url(#gm)"/>
<circle cx="333.8" cy="190.1" r="3.5" fill="url(#gp)" opacity="0.45"/>
<circle cx="298.0" cy="189.9" r="6.1" fill="url(#gm)"/>
<circle cx="299.4" cy="190.4" r="3.5" fill="url(#gp)" opacity="0.45"/>
<circle cx="309.8" cy="193.1" r="6.1" fill="url(#gk)"/>
<circle cx="373.3" cy="195.3" r="6.1" fill="url(#gm)"/>
<circle cx="374.8" cy="195.3" r="3.5" fill="url(#gp)" opacity="0.45"/>
<circle cx="365.7" cy="200.7" r="6.1" fill="url(#gm)"/>
<circle cx="366.6" cy="201.9" r="3.5" fill="url(#gp)" opacity="0.45"/>
<circle cx="296.9" cy="196.4" r="3.7" fill="url(#gp)"/>
<circle cx="352.8" cy="161.9" r="6.1" fill="url(#gp)"/>
</g></g>
<rect x="374.3" y="199.4" width="7.2" height="2.3" fill="#fff"/>
<text x="175.3" y="9.5" font-size="11" font-weight="bold" font-style="normal" text-anchor="start" fill="#000" stroke="#000" stroke-width="0.25">C</text>
<text x="240.8" y="7.7" font-size="9" font-weight="bold" font-style="normal" text-anchor="middle" fill="#000" stroke="#000" stroke-width="0.25">Parental</text>
<text x="336.5" y="7.7" font-size="9" font-weight="bold" font-style="normal" text-anchor="middle" fill="#000" stroke="#000" stroke-width="0.25">Parental + TNF<tspan font-weight="normal">&#945;</tspan></text>
<text x="240" y="112.5" font-size="9" font-weight="bold" font-style="italic" text-anchor="middle" fill="#000" stroke="#000" stroke-width="0.25">BCR-ABL1/GFP</text>
<text x="338.5" y="112.5" font-size="9" font-weight="bold" font-style="italic" text-anchor="middle" fill="#000" stroke="#000" stroke-width="0.25">BCR-ABL1/I<tspan font-weight="normal">&#954;</tspan>B<tspan font-weight="normal">&#945;</tspan>SR</text>
<g id="panelD">
<text x="400.5" y="8.4" font-size="11" font-weight="bold" font-style="normal" text-anchor="start" fill="#000" stroke="#000" stroke-width="0.25">D</text>
<line x1="443" y1="45.000000000000014" x2="443" y2="155.55" stroke="#000" stroke-width="1.5" stroke-linecap="butt"/>
<line x1="443" y1="154.8" x2="520" y2="154.8" stroke="#000" stroke-width="1.5" stroke-linecap="butt"/>
<line x1="438.7" y1="154.8" x2="443" y2="154.8" stroke="#000" stroke-width="1.4" stroke-linecap="butt"/>
<text x="438.4" y="158.10000000000002" font-size="9" font-weight="bold" font-style="normal" text-anchor="end" fill="#000" stroke="#000" stroke-width="0.25">0</text>
<line x1="438.7" y1="127.525" x2="443" y2="127.525" stroke="#000" stroke-width="1.4" stroke-linecap="butt"/>
<text x="438.4" y="130.82500000000002" font-size="9" font-weight="bold" font-style="normal" text-anchor="end" fill="#000" stroke="#000" stroke-width="0.25">25</text>
<line x1="438.7" y1="100.25000000000001" x2="443" y2="100.25000000000001" stroke="#000" stroke-width="1.4" stroke-linecap="butt"/>
<text x="438.4" y="103.55000000000001" font-size="9" font-weight="bold" font-style="normal" text-anchor="end" fill="#000" stroke="#000" stroke-width="0.25">50</text>
<line x1="438.7" y1="72.97500000000001" x2="443" y2="72.97500000000001" stroke="#000" stroke-width="1.4" stroke-linecap="butt"/>
<text x="438.4" y="76.275" font-size="9" font-weight="bold" font-style="normal" text-anchor="end" fill="#000" stroke="#000" stroke-width="0.25">75</text>
<line x1="438.7" y1="45.70000000000002" x2="443" y2="45.70000000000002" stroke="#000" stroke-width="1.4" stroke-linecap="butt"/>
<text x="438.4" y="49.000000000000014" font-size="9" font-weight="bold" font-style="normal" text-anchor="end" fill="#000" stroke="#000" stroke-width="0.25">100</text>
<rect x="445.7" y="95.9" width="13.900000000000034" height="58.900000000000006" fill="#000"/>
<line x1="452.65" y1="95.9" x2="452.65" y2="88.3" stroke="#000" stroke-width="1.5" stroke-linecap="butt"/>
<line x1="448.84999999999997" y1="88.3" x2="456.45" y2="88.3" stroke="#000" stroke-width="1.5" stroke-linecap="butt"/>
<line x1="452.65" y1="154.8" x2="452.65" y2="159.60000000000002" stroke="#000" stroke-width="1.5" stroke-linecap="butt"/>
<rect x="464.9" y="50.4" width="13.900000000000034" height="104.4" fill="#000"/>
<line x1="471.85" y1="50.4" x2="471.85" y2="42.8" stroke="#000" stroke-width="1.5" stroke-linecap="butt"/>
<line x1="468.05" y1="42.8" x2="475.65000000000003" y2="42.8" stroke="#000" stroke-width="1.5" stroke-linecap="butt"/>
<line x1="471.85" y1="154.8" x2="471.85" y2="159.60000000000002" stroke="#000" stroke-width="1.5" stroke-linecap="butt"/>
<rect x="484.3" y="45" width="13.699999999999989" height="109.80000000000001" fill="#000"/>
<line x1="491.15" y1="45" x2="491.15" y2="37.2" stroke="#000" stroke-width="1.5" stroke-linecap="butt"/>
<line x1="487.34999999999997" y1="37.2" x2="494.95" y2="37.2" stroke="#000" stroke-width="1.5" stroke-linecap="butt"/>
<line x1="491.15" y1="154.8" x2="491.15" y2="159.60000000000002" stroke="#000" stroke-width="1.5" stroke-linecap="butt"/>
<rect x="503.4" y="70" width="14.0" height="84.80000000000001" fill="#000"/>
<line x1="510.4" y1="70" x2="510.4" y2="64.9" stroke="#000" stroke-width="1.5" stroke-linecap="butt"/>
<line x1="506.59999999999997" y1="64.9" x2="514.1999999999999" y2="64.9" stroke="#000" stroke-width="1.5" stroke-linecap="butt"/>
<line x1="510.4" y1="154.8" x2="510.4" y2="159.60000000000002" stroke="#000" stroke-width="1.5" stroke-linecap="butt"/>
<polyline points="452.7,83.4 452.7,28 471.9,28 471.9,38" fill="none" stroke="#000" stroke-width="1.4" stroke-linejoin="miter" stroke-linecap="butt"/>
<polyline points="491.1,35.5 491.1,23.7 510.4,23.7 510.4,60.5" fill="none" stroke="#000" stroke-width="1.4" stroke-linejoin="miter" stroke-linecap="butt"/>
<text x="463.6" y="29.8" font-size="14.5" font-weight="bold" font-style="normal" text-anchor="middle" fill="#000" stroke="#000" stroke-width="0.25">*</text>
<text x="501.6" y="24.6" font-size="14.5" font-weight="bold" font-style="normal" text-anchor="middle" fill="#000" stroke="#000" stroke-width="0.25">**</text>
<text transform="translate(422 101.7) rotate(-90)" font-size="10" font-weight="bold" stroke="#000" stroke-width="0.25" text-anchor="middle">Relative MFI (%)</text>
<text x="443.5" y="166.8" font-size="8" font-weight="bold" font-style="normal" text-anchor="end" fill="#000" stroke="#000" stroke-width="0.25">TNF<tspan font-weight="normal">&#945;</tspan>:</text>
<text x="443.5" y="177.3" font-size="8" font-weight="bold" font-style="italic" text-anchor="end" fill="#000" stroke="#000" stroke-width="0.25">BCR-ABL1:</text>
<text x="443.5" y="187.5" font-size="8" font-weight="bold" font-style="italic" text-anchor="end" fill="#000" stroke="#000" stroke-width="0.25">I<tspan font-weight="normal">&#954;</tspan>B<tspan font-weight="normal">&#945;</tspan>SR:</text>
<line x1="450.34999999999997" y1="164.2" x2="454.95" y2="164.2" stroke="#000" stroke-width="1.5" stroke-linecap="butt"/>
<line x1="469.95000000000005" y1="164.2" x2="473.75" y2="164.2" stroke="#000" stroke-width="1.5" stroke-linecap="butt"/>
<line x1="471.85" y1="162.29999999999998" x2="471.85" y2="166.1" stroke="#000" stroke-width="1.5" stroke-linecap="butt"/>
<line x1="488.84999999999997" y1="164.2" x2="493.45" y2="164.2" stroke="#000" stroke-width="1.5" stroke-linecap="butt"/>
<line x1="508.09999999999997" y1="164.2" x2="512.6999999999999" y2="164.2" stroke="#000" stroke-width="1.5" stroke-linecap="butt"/>
<line x1="450.34999999999997" y1="174.6" x2="454.95" y2="174.6" stroke="#000" stroke-width="1.5" stroke-linecap="butt"/>
<line x1="469.55" y1="174.6" x2="474.15000000000003" y2="174.6" stroke="#000" stroke-width="1.5" stroke-linecap="butt"/>
<line x1="489.25" y1="174.6" x2="493.04999999999995" y2="174.6" stroke="#000" stroke-width="1.5" stroke-linecap="butt"/>
<line x1="491.15" y1="172.7" x2="491.15" y2="176.5" stroke="#000" stroke-width="1.5" stroke-linecap="butt"/>
<line x1="508.5" y1="174.6" x2="512.3" y2="174.6" stroke="#000" stroke-width="1.5" stroke-linecap="butt"/>
<line x1="510.4" y1="172.7" x2="510.4" y2="176.5" stroke="#000" stroke-width="1.5" stroke-linecap="butt"/>
<line x1="450.34999999999997" y1="184.8" x2="454.95" y2="184.8" stroke="#000" stroke-width="1.5" stroke-linecap="butt"/>
<line x1="469.55" y1="184.8" x2="474.15000000000003" y2="184.8" stroke="#000" stroke-width="1.5" stroke-linecap="butt"/>
<line x1="488.84999999999997" y1="184.8" x2="493.45" y2="184.8" stroke="#000" stroke-width="1.5" stroke-linecap="butt"/>
<line x1="508.5" y1="184.8" x2="512.3" y2="184.8" stroke="#000" stroke-width="1.5" stroke-linecap="butt"/>
<line x1="510.4" y1="182.9" x2="510.4" y2="186.70000000000002" stroke="#000" stroke-width="1.5" stroke-linecap="butt"/>
</g>
<g id="panelE">
<text x="0.4" y="234.3" font-size="11" font-weight="bold" font-style="normal" text-anchor="start" fill="#000" stroke="#000" stroke-width="0.25">E</text>
<text x="48.1" y="235.8" font-size="10.2" font-weight="bold" font-style="normal" text-anchor="start" fill="#000" stroke="#000" stroke-width="0.25">Days after plating</text>
<polyline points="33.8,337.8 109.4,337.8 109.4,309.5 152.8,309.5" fill="none" stroke="#7a2c9e" stroke-width="2.5" stroke-linejoin="miter" stroke-linecap="butt"/>
<polyline points="33.8,335.6 107.1,335.6 107.1,307.2 152.8,307.2" fill="none" stroke="#1468b8" stroke-width="2.5" stroke-linejoin="miter" stroke-linecap="butt"/>
<polyline points="33.8,333.3 95.6,333.3 95.6,307.0 101.8,307.0 101.8,256.0" fill="none" stroke="#16a34f" stroke-width="2.5" stroke-linejoin="miter" stroke-linecap="butt"/>
<polyline points="33.8,331.0 84.3,331.0 84.3,306.4 90.4,306.4 90.4,256.0" fill="none" stroke="#f5e51d" stroke-width="2.5" stroke-linejoin="miter" stroke-linecap="butt"/>
<polyline points="33.8,328.7 80.3,328.7 80.3,256.0" fill="none" stroke="#f08a1e" stroke-width="2.5" stroke-linejoin="miter" stroke-linecap="butt"/>
<polyline points="33.8,326.4 72.9,326.4 72.9,280.8 78,280.8 78,256.0" fill="none" stroke="#e5242a" stroke-width="2.5" stroke-linejoin="miter" stroke-linecap="butt"/>
<line x1="33.8" y1="255.2" x2="33.8" y2="333.9" stroke="#000" stroke-width="1.5" stroke-linecap="butt"/>
<line x1="27.299999999999997" y1="256.0" x2="153" y2="256.0" stroke="#000" stroke-width="1.7" stroke-linecap="butt"/>
<line x1="27.299999999999997" y1="256.0" x2="33.8" y2="256.0" stroke="#000" stroke-width="1.4" stroke-linecap="butt"/>
<text x="25.499999999999996" y="259.3" font-size="9" font-weight="bold" font-style="normal" text-anchor="end" fill="#000" stroke="#000" stroke-width="0.25">3</text>
<line x1="27.299999999999997" y1="281.2" x2="33.8" y2="281.2" stroke="#000" stroke-width="1.4" stroke-linecap="butt"/>
<text x="25.499999999999996" y="284.5" font-size="9" font-weight="bold" font-style="normal" text-anchor="end" fill="#000" stroke="#000" stroke-width="0.25">2</text>
<line x1="27.299999999999997" y1="306.9" x2="33.8" y2="306.9" stroke="#000" stroke-width="1.4" stroke-linecap="butt"/>
<text x="25.499999999999996" y="310.2" font-size="9" font-weight="bold" font-style="normal" text-anchor="end" fill="#000" stroke="#000" stroke-width="0.25">1</text>
<line x1="27.299999999999997" y1="333.2" x2="33.8" y2="333.2" stroke="#000" stroke-width="1.4" stroke-linecap="butt"/>
<text x="25.499999999999996" y="336.5" font-size="9" font-weight="bold" font-style="normal" text-anchor="end" fill="#000" stroke="#000" stroke-width="0.25">0</text>
<line x1="33.8" y1="256.0" x2="33.8" y2="251.4" stroke="#000" stroke-width="1.1" stroke-linecap="butt"/>
<line x1="39.457142857142856" y1="256.0" x2="39.457142857142856" y2="251.4" stroke="#000" stroke-width="1.1" stroke-linecap="butt"/>
<line x1="45.114285714285714" y1="256.0" x2="45.114285714285714" y2="251.4" stroke="#000" stroke-width="1.1" stroke-linecap="butt"/>
<line x1="50.77142857142857" y1="256.0" x2="50.77142857142857" y2="251.4" stroke="#000" stroke-width="1.1" stroke-linecap="butt"/>
<line x1="56.42857142857142" y1="256.0" x2="56.42857142857142" y2="251.4" stroke="#000" stroke-width="1.1" stroke-linecap="butt"/>
<line x1="62.08571428571428" y1="256.0" x2="62.08571428571428" y2="251.4" stroke="#000" stroke-width="1.1" stroke-linecap="butt"/>
<line x1="67.74285714285713" y1="256.0" x2="67.74285714285713" y2="251.4" stroke="#000" stroke-width="1.1" stroke-linecap="butt"/>
<line x1="73.4" y1="256.0" x2="73.4" y2="251.4" stroke="#000" stroke-width="1.1" stroke-linecap="butt"/>
<line x1="79.05714285714285" y1="256.0" x2="79.05714285714285" y2="251.4" stroke="#000" stroke-width="1.1" stroke-linecap="butt"/>
<line x1="84.71428571428572" y1="256.0" x2="84.71428571428572" y2="251.4" stroke="#000" stroke-width="1.1" stroke-linecap="butt"/>
<line x1="90.37142857142857" y1="256.0" x2="90.37142857142857" y2="251.4" stroke="#000" stroke-width="1.1" stroke-linecap="butt"/>
<line x1="96.02857142857142" y1="256.0" x2="96.02857142857142" y2="251.4" stroke="#000" stroke-width="1.1" stroke-linecap="butt"/>
<line x1="101.68571428571428" y1="256.0" x2="101.68571428571428" y2="251.4" stroke="#000" stroke-width="1.1" stroke-linecap="butt"/>
<line x1="107.34285714285713" y1="256.0" x2="107.34285714285713" y2="251.4" stroke="#000" stroke-width="1.1" stroke-linecap="butt"/>
<line x1="113.0" y1="256.0" x2="113.0" y2="251.4" stroke="#000" stroke-width="1.1" stroke-linecap="butt"/>
<line x1="118.65714285714286" y1="256.0" x2="118.65714285714286" y2="251.4" stroke="#000" stroke-width="1.1" stroke-linecap="butt"/>
<line x1="124.3142857142857" y1="256.0" x2="124.3142857142857" y2="251.4" stroke="#000" stroke-width="1.1" stroke-linecap="butt"/>
<line x1="129.97142857142856" y1="256.0" x2="129.97142857142856" y2="251.4" stroke="#000" stroke-width="1.1" stroke-linecap="butt"/>
<line x1="135.62857142857143" y1="256.0" x2="135.62857142857143" y2="251.4" stroke="#000" stroke-width="1.1" stroke-linecap="butt"/>
<line x1="141.28571428571428" y1="256.0" x2="141.28571428571428" y2="251.4" stroke="#000" stroke-width="1.1" stroke-linecap="butt"/>
<line x1="146.94285714285712" y1="256.0" x2="146.94285714285712" y2="251.4" stroke="#000" stroke-width="1.1" stroke-linecap="butt"/>
<line x1="152.59999999999997" y1="256.0" x2="152.59999999999997" y2="251.4" stroke="#000" stroke-width="1.1" stroke-linecap="butt"/>
<text x="33.3" y="249.0" font-size="9" font-weight="bold" font-style="normal" text-anchor="middle" fill="#000" stroke="#000" stroke-width="0.25">0</text>
<text x="72.9" y="249.0" font-size="9" font-weight="bold" font-style="normal" text-anchor="middle" fill="#000" stroke="#000" stroke-width="0.25">7</text>
<text x="112.5" y="249.0" font-size="9" font-weight="bold" font-style="normal" text-anchor="middle" fill="#000" stroke="#000" stroke-width="0.25">14</text>
<text x="152.09999999999997" y="249.0" font-size="9" font-weight="bold" font-style="normal" text-anchor="middle" fill="#000" stroke="#000" stroke-width="0.25">21</text>
<text transform="translate(14.3 296.1) rotate(-90)" font-size="10" font-weight="bold" stroke="#000" stroke-width="0.25" text-anchor="middle">No. positive wells</text>
<polyline points="33.8,452.0 153.3,452.0" fill="none" stroke="#7a2c9e" stroke-width="2.5" stroke-linejoin="miter" stroke-linecap="butt"/>
<polyline points="33.8,449.6 112.3,449.6 112.3,422.6 153.3,422.6" fill="none" stroke="#1468b8" stroke-width="2.5" stroke-linejoin="miter" stroke-linecap="butt"/>
<polyline points="33.8,447.2 107.6,447.2 107.6,420.3 153.3,420.3" fill="none" stroke="#16a34f" stroke-width="2.5" stroke-linejoin="miter" stroke-linecap="butt"/>
<polyline points="33.8,444.9 95.7,444.9 95.7,397.4 153.3,397.4" fill="none" stroke="#f5e51d" stroke-width="2.5" stroke-linejoin="miter" stroke-linecap="butt"/>
<polyline points="33.8,442.6 84.4,442.6 84.4,393.0 90.0,393.0 90.0,367.0" fill="none" stroke="#f08a1e" stroke-width="2.5" stroke-linejoin="miter" stroke-linecap="butt"/>
<polyline points="33.8,440.3 79.0,440.3 79.0,395 153.3,395" fill="none" stroke="#e5242a" stroke-width="2.5" stroke-linejoin="miter" stroke-linecap="butt"/>
<line x1="33.8" y1="368.8" x2="33.8" y2="448.2" stroke="#000" stroke-width="1.5" stroke-linecap="butt"/>
<line x1="27.299999999999997" y1="369.6" x2="153" y2="369.6" stroke="#000" stroke-width="1.7" stroke-linecap="butt"/>
<line x1="27.299999999999997" y1="369.6" x2="33.8" y2="369.6" stroke="#000" stroke-width="1.4" stroke-linecap="butt"/>
<text x="25.499999999999996" y="372.90000000000003" font-size="9" font-weight="bold" font-style="normal" text-anchor="end" fill="#000" stroke="#000" stroke-width="0.25">3</text>
<line x1="27.299999999999997" y1="395.2" x2="33.8" y2="395.2" stroke="#000" stroke-width="1.4" stroke-linecap="butt"/>
<text x="25.499999999999996" y="398.5" font-size="9" font-weight="bold" font-style="normal" text-anchor="end" fill="#000" stroke="#000" stroke-width="0.25">2</text>
<line x1="27.299999999999997" y1="420.8" x2="33.8" y2="420.8" stroke="#000" stroke-width="1.4" stroke-linecap="butt"/>
<text x="25.499999999999996" y="424.1" font-size="9" font-weight="bold" font-style="normal" text-anchor="end" fill="#000" stroke="#000" stroke-width="0.25">1</text>
<line x1="27.299999999999997" y1="447.5" x2="33.8" y2="447.5" stroke="#000" stroke-width="1.4" stroke-linecap="butt"/>
<text x="25.499999999999996" y="450.8" font-size="9" font-weight="bold" font-style="normal" text-anchor="end" fill="#000" stroke="#000" stroke-width="0.25">0</text>
<line x1="33.8" y1="369.6" x2="33.8" y2="365.0" stroke="#000" stroke-width="1.1" stroke-linecap="butt"/>
<line x1="39.457142857142856" y1="369.6" x2="39.457142857142856" y2="365.0" stroke="#000" stroke-width="1.1" stroke-linecap="butt"/>
<line x1="45.114285714285714" y1="369.6" x2="45.114285714285714" y2="365.0" stroke="#000" stroke-width="1.1" stroke-linecap="butt"/>
<line x1="50.77142857142857" y1="369.6" x2="50.77142857142857" y2="365.0" stroke="#000" stroke-width="1.1" stroke-linecap="butt"/>
<line x1="56.42857142857142" y1="369.6" x2="56.42857142857142" y2="365.0" stroke="#000" stroke-width="1.1" stroke-linecap="butt"/>
<line x1="62.08571428571428" y1="369.6" x2="62.08571428571428" y2="365.0" stroke="#000" stroke-width="1.1" stroke-linecap="butt"/>
<line x1="67.74285714285713" y1="369.6" x2="67.74285714285713" y2="365.0" stroke="#000" stroke-width="1.1" stroke-linecap="butt"/>
<line x1="73.4" y1="369.6" x2="73.4" y2="365.0" stroke="#000" stroke-width="1.1" stroke-linecap="butt"/>
<line x1="79.05714285714285" y1="369.6" x2="79.05714285714285" y2="365.0" stroke="#000" stroke-width="1.1" stroke-linecap="butt"/>
<line x1="84.71428571428572" y1="369.6" x2="84.71428571428572" y2="365.0" stroke="#000" stroke-width="1.1" stroke-linecap="butt"/>
<line x1="90.37142857142857" y1="369.6" x2="90.37142857142857" y2="365.0" stroke="#000" stroke-width="1.1" stroke-linecap="butt"/>
<line x1="96.02857142857142" y1="369.6" x2="96.02857142857142" y2="365.0" stroke="#000" stroke-width="1.1" stroke-linecap="butt"/>
<line x1="101.68571428571428" y1="369.6" x2="101.68571428571428" y2="365.0" stroke="#000" stroke-width="1.1" stroke-linecap="butt"/>
<line x1="107.34285714285713" y1="369.6" x2="107.34285714285713" y2="365.0" stroke="#000" stroke-width="1.1" stroke-linecap="butt"/>
<line x1="113.0" y1="369.6" x2="113.0" y2="365.0" stroke="#000" stroke-width="1.1" stroke-linecap="butt"/>
<line x1="118.65714285714286" y1="369.6" x2="118.65714285714286" y2="365.0" stroke="#000" stroke-width="1.1" stroke-linecap="butt"/>
<line x1="124.3142857142857" y1="369.6" x2="124.3142857142857" y2="365.0" stroke="#000" stroke-width="1.1" stroke-linecap="butt"/>
<line x1="129.97142857142856" y1="369.6" x2="129.97142857142856" y2="365.0" stroke="#000" stroke-width="1.1" stroke-linecap="butt"/>
<line x1="135.62857142857143" y1="369.6" x2="135.62857142857143" y2="365.0" stroke="#000" stroke-width="1.1" stroke-linecap="butt"/>
<line x1="141.28571428571428" y1="369.6" x2="141.28571428571428" y2="365.0" stroke="#000" stroke-width="1.1" stroke-linecap="butt"/>
<line x1="146.94285714285712" y1="369.6" x2="146.94285714285712" y2="365.0" stroke="#000" stroke-width="1.1" stroke-linecap="butt"/>
<line x1="152.59999999999997" y1="369.6" x2="152.59999999999997" y2="365.0" stroke="#000" stroke-width="1.1" stroke-linecap="butt"/>
<text x="33.3" y="362.6" font-size="9" font-weight="bold" font-style="normal" text-anchor="middle" fill="#000" stroke="#000" stroke-width="0.25">0</text>
<text x="72.9" y="362.6" font-size="9" font-weight="bold" font-style="normal" text-anchor="middle" fill="#000" stroke="#000" stroke-width="0.25">7</text>
<text x="112.5" y="362.6" font-size="9" font-weight="bold" font-style="normal" text-anchor="middle" fill="#000" stroke="#000" stroke-width="0.25">14</text>
<text x="152.09999999999997" y="362.6" font-size="9" font-weight="bold" font-style="normal" text-anchor="middle" fill="#000" stroke="#000" stroke-width="0.25">21</text>
<text transform="translate(14.3 410.05) rotate(-90)" font-size="10" font-weight="bold" stroke="#000" stroke-width="0.25" text-anchor="middle">No. positive wells</text>
<text x="94.7" y="348.7" font-size="9" font-weight="bold" font-style="italic" text-anchor="middle" fill="#000" stroke="#000" stroke-width="0.25">BCR-ABL1/GFP</text>
<text x="94.3" y="459.6" font-size="9.2" font-weight="bold" font-style="italic" text-anchor="middle" fill="#000" stroke="#000" stroke-width="0.25">BCR-ABL1/I<tspan font-weight="normal">&#954;</tspan>B<tspan font-weight="normal">&#945;</tspan>SR</text>
<line x1="178.6" y1="245.5" x2="206.6" y2="245.5" stroke="#e5242a" stroke-width="2.2" stroke-linecap="butt"/>
<text x="208.8" y="248.7" font-size="9" font-weight="bold" font-style="normal" text-anchor="start" fill="#000" stroke="#000" stroke-width="0.25">1 x 10<tspan dy="-3.6" font-size="7.8">5</tspan></text>
<line x1="178.6" y1="257.7" x2="206.6" y2="257.7" stroke="#f08a1e" stroke-width="2.2" stroke-linecap="butt"/>
<text x="208.8" y="260.9" font-size="9" font-weight="bold" font-style="normal" text-anchor="start" fill="#000" stroke="#000" stroke-width="0.25">3 x 10<tspan dy="-3.6" font-size="7.8">4</tspan></text>
<line x1="178.6" y1="269.9" x2="206.6" y2="269.9" stroke="#f5e51d" stroke-width="2.2" stroke-linecap="butt"/>
<text x="208.8" y="273.09999999999997" font-size="9" font-weight="bold" font-style="normal" text-anchor="start" fill="#000" stroke="#000" stroke-width="0.25">1 x 10<tspan dy="-3.6" font-size="7.8">4</tspan></text>
<line x1="178.6" y1="282.1" x2="206.6" y2="282.1" stroke="#16a34f" stroke-width="2.2" stroke-linecap="butt"/>
<text x="208.8" y="285.3" font-size="9" font-weight="bold" font-style="normal" text-anchor="start" fill="#000" stroke="#000" stroke-width="0.25">3 x 10<tspan dy="-3.6" font-size="7.8">3</tspan></text>
<line x1="178.6" y1="294.4" x2="206.6" y2="294.4" stroke="#1468b8" stroke-width="2.2" stroke-linecap="butt"/>
<text x="208.8" y="297.59999999999997" font-size="9" font-weight="bold" font-style="normal" text-anchor="start" fill="#000" stroke="#000" stroke-width="0.25">1 x 10<tspan dy="-3.6" font-size="7.8">3</tspan></text>
<line x1="178.6" y1="306.8" x2="206.6" y2="306.8" stroke="#7a2c9e" stroke-width="2.2" stroke-linecap="butt"/>
<text x="208.8" y="310.0" font-size="9" font-weight="bold" font-style="normal" text-anchor="start" fill="#000" stroke="#000" stroke-width="0.25">3 x 10<tspan dy="-3.6" font-size="7.8">2</tspan></text>
<text transform="translate(170.5 275.8) rotate(-90)" font-size="8.8" font-weight="bold" stroke="#000" stroke-width="0.25" text-anchor="middle">No. cells plated</text>
</g>
<g id="panelF">
<text x="248.5" y="234.3" font-size="11" font-weight="bold" font-style="normal" text-anchor="start" fill="#000" stroke="#000" stroke-width="0.25">F</text>
<line x1="284.0" y1="228.5" x2="284.0" y2="323.35" stroke="#000" stroke-width="1.5" stroke-linecap="butt"/>
<line x1="284.0" y1="322.5" x2="412" y2="322.5" stroke="#000" stroke-width="1.7" stroke-linecap="butt"/>
<line x1="279.7" y1="322.5" x2="284.0" y2="322.5" stroke="#000" stroke-width="1.4" stroke-linecap="butt"/>
<text x="278.4" y="325.8" font-size="9" font-weight="bold" font-style="normal" text-anchor="end" fill="#000" stroke="#000" stroke-width="0.25">0</text>
<line x1="279.7" y1="291.4" x2="284.0" y2="291.4" stroke="#000" stroke-width="1.4" stroke-linecap="butt"/>
<text x="278.4" y="294.7" font-size="9" font-weight="bold" font-style="normal" text-anchor="end" fill="#000" stroke="#000" stroke-width="0.25">0.1</text>
<line x1="279.7" y1="260.29999999999995" x2="284.0" y2="260.29999999999995" stroke="#000" stroke-width="1.4" stroke-linecap="butt"/>
<text x="278.4" y="263.59999999999997" font-size="9" font-weight="bold" font-style="normal" text-anchor="end" fill="#000" stroke="#000" stroke-width="0.25">0.2</text>
<line x1="279.7" y1="229.2" x2="284.0" y2="229.2" stroke="#000" stroke-width="1.4" stroke-linecap="butt"/>
<text x="278.4" y="232.5" font-size="9" font-weight="bold" font-style="normal" text-anchor="end" fill="#000" stroke="#000" stroke-width="0.25">0.3</text>
<line x1="284.6" y1="322.5" x2="284.6" y2="327.0" stroke="#000" stroke-width="1.4" stroke-linecap="butt"/>
<text x="284.6" y="337.6" font-size="9" font-weight="bold" font-style="normal" text-anchor="middle" fill="#000" stroke="#000" stroke-width="0.25">0</text>
<line x1="315.2" y1="322.5" x2="315.2" y2="327.0" stroke="#000" stroke-width="1.4" stroke-linecap="butt"/>
<text x="315.2" y="337.6" font-size="9" font-weight="bold" font-style="normal" text-anchor="middle" fill="#000" stroke="#000" stroke-width="0.25">24</text>
<line x1="345.8" y1="322.5" x2="345.8" y2="327.0" stroke="#000" stroke-width="1.4" stroke-linecap="butt"/>
<text x="345.8" y="337.6" font-size="9" font-weight="bold" font-style="normal" text-anchor="middle" fill="#000" stroke="#000" stroke-width="0.25">48</text>
<line x1="376.4" y1="322.5" x2="376.4" y2="327.0" stroke="#000" stroke-width="1.4" stroke-linecap="butt"/>
<text x="376.4" y="337.6" font-size="9" font-weight="bold" font-style="normal" text-anchor="middle" fill="#000" stroke="#000" stroke-width="0.25">72</text>
<line x1="407.0" y1="322.5" x2="407.0" y2="327.0" stroke="#000" stroke-width="1.4" stroke-linecap="butt"/>
<text x="407.0" y="337.6" font-size="9" font-weight="bold" font-style="normal" text-anchor="middle" fill="#000" stroke="#000" stroke-width="0.25">96</text>
<text x="345.8" y="349.3" font-size="10" font-weight="bold" font-style="normal" text-anchor="middle" fill="#000" stroke="#000" stroke-width="0.25">Hours</text>
<text transform="translate(259.6 290.8) rotate(-90)" font-size="10.3" font-weight="bold" stroke="#000" stroke-width="0.25">OD<tspan font-size="6.4" dx="1.6" dy="0.2">490</tspan></text>
<polyline points="284.6,318.3 315.2,310.8 345.8,298.7 407.0,243" fill="none" stroke="#1ea651" stroke-width="1.6" stroke-linejoin="miter" stroke-linecap="butt"/>
<line x1="345.8" y1="298.7" x2="345.8" y2="293" stroke="#1ea651" stroke-width="1.4" stroke-linecap="butt"/>
<line x1="341.40000000000003" y1="293" x2="350.2" y2="293" stroke="#1ea651" stroke-width="1.4" stroke-linecap="butt"/>
<line x1="407.0" y1="243" x2="407.0" y2="236.8" stroke="#1ea651" stroke-width="1.4" stroke-linecap="butt"/>
<line x1="402.2" y1="236.8" x2="411.8" y2="236.8" stroke="#1ea651" stroke-width="1.4" stroke-linecap="butt"/>
<circle cx="315.2" cy="310.8" r="3.7" fill="#1ea651"/>
<circle cx="345.8" cy="298.7" r="3.7" fill="#1ea651"/>
<circle cx="407.0" cy="243" r="3.7" fill="#1ea651"/>
<polyline points="284.6,318.5 315.2,317.4 345.8,316.7 407.0,309.3" fill="none" stroke="#e0308a" stroke-width="1.6" stroke-linejoin="miter" stroke-linecap="butt"/>
<line x1="407.0" y1="309" x2="407.0" y2="316.2" stroke="#e0308a" stroke-width="1.4" stroke-linecap="butt"/>
<line x1="402.2" y1="316.2" x2="411.8" y2="316.2" stroke="#e0308a" stroke-width="1.4" stroke-linecap="butt"/>
<line x1="345.8" y1="316.7" x2="345.8" y2="320.8" stroke="#e0308a" stroke-width="1.4" stroke-linecap="butt"/>
<line x1="341.8" y1="320.8" x2="349.8" y2="320.8" stroke="#e0308a" stroke-width="1.4" stroke-linecap="butt"/>
<polygon points="280.3,315.06 288.90000000000003,315.06 284.6,322.585" fill="#e0308a"/>
<polygon points="310.9,313.96 319.5,313.96 315.2,321.48499999999996" fill="#e0308a"/>
<polygon points="341.5,313.26 350.1,313.26 345.8,320.78499999999997" fill="#e0308a"/>
<polygon points="402.7,305.86 411.3,305.86 407.0,313.385" fill="#e0308a"/>
<line x1="290" y1="234.0" x2="309" y2="234.0" stroke="#e0308a" stroke-width="1.6" stroke-linecap="butt"/>
<polygon points="295.5,231.0 303.5,231.0 299.5,238.0" fill="#e0308a"/>
<line x1="290" y1="244.6" x2="309" y2="244.6" stroke="#1ea651" stroke-width="1.6" stroke-linecap="butt"/>
<circle cx="299.5" cy="244.6" r="3.5" fill="#1ea651"/>
<text x="313.5" y="237.2" font-size="9" font-weight="normal" font-style="italic" text-anchor="start" fill="#000" stroke="#000" stroke-width="0.28">BCR-ABL1/I&#954;B&#945;SR</text>
<text x="313.5" y="247.8" font-size="9" font-weight="normal" font-style="italic" text-anchor="start" fill="#000" stroke="#000" stroke-width="0.28">BCR-ABL1/GFP</text>
</g>
<text x="170" y="354.2" font-size="11" font-weight="bold" font-style="normal" text-anchor="start" fill="#000" stroke="#000" stroke-width="0.25">G</text>
<rect x="170.5" y="358.7" width="127.89999999999998" height="106.30000000000001" fill="#1e1a1c"/>
<g clip-path="url(#g1)"><g filter="url(#nzG)">
<circle cx="214.8" cy="362.5" r="6.3" fill="url(#gr)"/>
<circle cx="217.8" cy="364.4" r="3.2" fill="url(#gr)" opacity="0.8"/>
<circle cx="214.7" cy="366.1" r="3.2" fill="url(#gr)" opacity="0.8"/>
<circle cx="211.3" cy="361.7" r="3.2" fill="url(#gr)" opacity="0.8"/>
<circle cx="214.0" cy="359.0" r="3.2" fill="url(#gr)" opacity="0.8"/>
<circle cx="217.2" cy="359.9" r="3.2" fill="url(#gr)" opacity="0.8"/>
<circle cx="201.5" cy="379.6" r="10.1" fill="url(#gm)"/>
<circle cx="201.9" cy="385.3" r="5.1" fill="url(#gm)" opacity="0.8"/>
<circle cx="196.2" cy="381.7" r="5.1" fill="url(#gm)" opacity="0.8"/>
<circle cx="197.3" cy="375.8" r="5.1" fill="url(#gm)" opacity="0.8"/>
<circle cx="205.8" cy="375.8" r="5.1" fill="url(#gm)" opacity="0.8"/>
<circle cx="206.1" cy="382.9" r="5.1" fill="url(#gm)" opacity="0.8"/>
<circle cx="199.7" cy="380.0" r="6.9" fill="url(#gp)" opacity="0.75"/>
<circle cx="206.3" cy="397.0" r="10.1" fill="url(#gr)"/>
<circle cx="200.9" cy="399.0" r="5.1" fill="url(#gr)" opacity="0.8"/>
<circle cx="202.8" cy="392.5" r="5.1" fill="url(#gr)" opacity="0.8"/>
<circle cx="210.2" cy="392.8" r="5.1" fill="url(#gr)" opacity="0.8"/>
<circle cx="211.6" cy="399.1" r="5.1" fill="url(#gr)" opacity="0.8"/>
<circle cx="204.0" cy="402.2" r="5.1" fill="url(#gr)" opacity="0.8"/>
<circle cx="207.3" cy="398.6" r="6.9" fill="url(#gm)" opacity="0.85"/>
<circle cx="220.8" cy="416.0" r="9.5" fill="url(#gr)"/>
<circle cx="225.7" cy="418.2" r="4.7" fill="url(#gr)" opacity="0.8"/>
<circle cx="221.6" cy="421.3" r="4.7" fill="url(#gr)" opacity="0.8"/>
<circle cx="216.7" cy="419.4" r="4.7" fill="url(#gr)" opacity="0.8"/>
<circle cx="217.1" cy="412.2" r="4.7" fill="url(#gr)" opacity="0.8"/>
<circle cx="221.7" cy="410.7" r="4.7" fill="url(#gr)" opacity="0.8"/>
<circle cx="219.1" cy="415.7" r="6.5" fill="url(#gm)" opacity="0.85"/>
<circle cx="225.6" cy="431.5" r="9.5" fill="url(#gm)"/>
<circle cx="230.9" cy="431.9" r="4.7" fill="url(#gm)" opacity="0.8"/>
<circle cx="227.3" cy="436.6" r="4.7" fill="url(#gm)" opacity="0.8"/>
<circle cx="222.3" cy="435.7" r="4.7" fill="url(#gm)" opacity="0.8"/>
<circle cx="220.7" cy="429.4" r="4.7" fill="url(#gm)" opacity="0.8"/>
<circle cx="225.5" cy="426.2" r="4.7" fill="url(#gm)" opacity="0.8"/>
<circle cx="225.8" cy="429.8" r="6.5" fill="url(#gmU)" opacity="0.95"/>
<circle cx="241.0" cy="443.0" r="8.9" fill="url(#grU)"/>
<circle cx="236.4" cy="441.2" r="4.4" fill="url(#grU)" opacity="0.8"/>
<circle cx="240.0" cy="438.1" r="4.4" fill="url(#grU)" opacity="0.8"/>
<circle cx="245.1" cy="440.2" r="4.4" fill="url(#grU)" opacity="0.8"/>
<circle cx="243.6" cy="447.3" r="4.4" fill="url(#grU)" opacity="0.8"/>
<circle cx="237.4" cy="446.4" r="4.4" fill="url(#grU)" opacity="0.8"/>
<circle cx="243.8" cy="394.0" r="11.4" fill="url(#gmU)"/>
<circle cx="248.5" cy="389.7" r="5.7" fill="url(#gmU)" opacity="0.8"/>
<circle cx="249.4" cy="397.2" r="5.7" fill="url(#gmU)" opacity="0.8"/>
<circle cx="242.8" cy="400.3" r="5.7" fill="url(#gmU)" opacity="0.8"/>
<circle cx="238.1" cy="396.9" r="5.7" fill="url(#gmU)" opacity="0.8"/>
<circle cx="240.2" cy="388.7" r="5.7" fill="url(#gmU)" opacity="0.8"/>
<circle cx="242.5" cy="395.6" r="7.8" fill="url(#gpU)" opacity="0.9"/>
<circle cx="260.0" cy="395.0" r="11.4" fill="url(#gkU)"/>
<circle cx="266.4" cy="394.4" r="5.7" fill="url(#gkU)" opacity="0.8"/>
<circle cx="261.7" cy="401.2" r="5.7" fill="url(#gkU)" opacity="0.8"/>
<circle cx="254.7" cy="398.6" r="5.7" fill="url(#gkU)" opacity="0.8"/>
<circle cx="256.1" cy="389.9" r="5.7" fill="url(#gkU)" opacity="0.8"/>
<circle cx="264.5" cy="390.4" r="5.7" fill="url(#gkU)" opacity="0.8"/>
<circle cx="258.0" cy="395.7" r="7.8" fill="url(#gpU)" opacity="0.9"/>
<circle cx="242.0" cy="411.3" r="10.8" fill="url(#gmU)"/>
<circle cx="248.0" cy="410.7" r="5.4" fill="url(#gmU)" opacity="0.8"/>
<circle cx="244.6" cy="416.8" r="5.4" fill="url(#gmU)" opacity="0.8"/>
<circle cx="239.3" cy="416.7" r="5.4" fill="url(#gmU)" opacity="0.8"/>
<circle cx="236.0" cy="410.9" r="5.4" fill="url(#gmU)" opacity="0.8"/>
<circle cx="240.5" cy="405.4" r="5.4" fill="url(#gmU)" opacity="0.8"/>
<circle cx="242.6" cy="413.1" r="7.3" fill="url(#gp)" opacity="0.75"/>
<circle cx="255.4" cy="408.5" r="8.9" fill="url(#gp)"/>
<circle cx="256.5" cy="413.4" r="4.4" fill="url(#gp)" opacity="0.8"/>
<circle cx="250.7" cy="410.3" r="4.4" fill="url(#gp)" opacity="0.8"/>
<circle cx="252.1" cy="404.7" r="4.4" fill="url(#gp)" opacity="0.8"/>
<circle cx="257.0" cy="403.8" r="4.4" fill="url(#gp)" opacity="0.8"/>
<circle cx="260.4" cy="409.1" r="4.4" fill="url(#gp)" opacity="0.8"/>
<circle cx="255.9" cy="407.0" r="6.0" fill="url(#gd)" opacity="0.7"/>
<circle cx="267.0" cy="415.0" r="10.8" fill="url(#gpU)"/>
<circle cx="271.9" cy="418.6" r="5.4" fill="url(#gpU)" opacity="0.8"/>
<circle cx="264.3" cy="420.4" r="5.4" fill="url(#gpU)" opacity="0.8"/>
<circle cx="261.0" cy="414.6" r="5.4" fill="url(#gpU)" opacity="0.8"/>
<circle cx="265.4" cy="409.1" r="5.4" fill="url(#gpU)" opacity="0.8"/>
<circle cx="271.5" cy="410.9" r="5.4" fill="url(#gpU)" opacity="0.8"/>
<circle cx="267.8" cy="416.8" r="7.3" fill="url(#gb)" opacity="0.8"/>
<circle cx="247.7" cy="425.8" r="10.8" fill="url(#gmU)"/>
<circle cx="248.6" cy="419.8" r="5.4" fill="url(#gmU)" opacity="0.8"/>
<circle cx="253.7" cy="426.5" r="5.4" fill="url(#gmU)" opacity="0.8"/>
<circle cx="248.3" cy="431.8" r="5.4" fill="url(#gmU)" opacity="0.8"/>
<circle cx="243.3" cy="430.0" r="5.4" fill="url(#gmU)" opacity="0.8"/>
<circle cx="242.4" cy="422.9" r="5.4" fill="url(#gmU)" opacity="0.8"/>
<circle cx="249.5" cy="425.2" r="7.3" fill="url(#gpU)" opacity="0.9"/>
<circle cx="261.0" cy="429.6" r="11.4" fill="url(#gkU)"/>
<circle cx="258.8" cy="423.6" r="5.7" fill="url(#gkU)" opacity="0.8"/>
<circle cx="265.9" cy="425.5" r="5.7" fill="url(#gkU)" opacity="0.8"/>
<circle cx="266.4" cy="433.1" r="5.7" fill="url(#gkU)" opacity="0.8"/>
<circle cx="256.8" cy="434.5" r="5.7" fill="url(#gkU)" opacity="0.8"/>
<circle cx="254.9" cy="427.5" r="5.7" fill="url(#gkU)" opacity="0.8"/>
<circle cx="262.3" cy="431.2" r="7.8" fill="url(#gpU)" opacity="0.9"/>
<circle cx="271.7" cy="429.6" r="9.5" fill="url(#gkU)"/>
<circle cx="275.4" cy="425.8" r="4.7" fill="url(#gkU)" opacity="0.8"/>
<circle cx="276.9" cy="431.0" r="4.7" fill="url(#gkU)" opacity="0.8"/>
<circle cx="273.0" cy="434.8" r="4.7" fill="url(#gkU)" opacity="0.8"/>
<circle cx="266.8" cy="431.8" r="4.7" fill="url(#gkU)" opacity="0.8"/>
<circle cx="267.2" cy="426.7" r="4.7" fill="url(#gkU)" opacity="0.8"/>
<circle cx="253.5" cy="439.0" r="8.9" fill="url(#grU)"/>
<circle cx="258.1" cy="440.8" r="4.4" fill="url(#grU)" opacity="0.8"/>
<circle cx="254.2" cy="443.9" r="4.4" fill="url(#grU)" opacity="0.8"/>
<circle cx="249.2" cy="441.5" r="4.4" fill="url(#grU)" opacity="0.8"/>
<circle cx="250.7" cy="434.9" r="4.4" fill="url(#grU)" opacity="0.8"/>
<circle cx="255.3" cy="434.3" r="4.4" fill="url(#grU)" opacity="0.8"/>
<circle cx="254.6" cy="437.8" r="6.0" fill="url(#gm)" opacity="0.85"/>
<circle cx="252.0" cy="398.0" r="6.3" fill="url(#grU)"/>
<circle cx="253.1" cy="394.6" r="3.2" fill="url(#grU)" opacity="0.8"/>
<circle cx="255.6" cy="398.1" r="3.2" fill="url(#grU)" opacity="0.8"/>
<circle cx="253.0" cy="401.4" r="3.2" fill="url(#grU)" opacity="0.8"/>
<circle cx="249.1" cy="400.1" r="3.2" fill="url(#grU)" opacity="0.8"/>
<circle cx="249.6" cy="395.3" r="3.2" fill="url(#grU)" opacity="0.8"/>
</g></g>
<rect x="261.5" y="459" width="24" height="3.2" fill="#fff"/>
<rect x="299.6" y="358.7" width="124.89999999999998" height="106.30000000000001" fill="#191733"/>
<g clip-path="url(#g2)"><g filter="url(#nzG)">
<circle cx="335.0" cy="382.7" r="9.7" fill="url(#gu)"/>
<circle cx="334.9" cy="388.2" r="4.8" fill="url(#gu)" opacity="0.8"/>
<circle cx="330.2" cy="385.2" r="4.8" fill="url(#gu)" opacity="0.8"/>
<circle cx="333.3" cy="377.5" r="4.8" fill="url(#gu)" opacity="0.8"/>
<circle cx="338.1" cy="378.2" r="4.8" fill="url(#gu)" opacity="0.8"/>
<circle cx="340.1" cy="384.6" r="4.8" fill="url(#gu)" opacity="0.8"/>
<circle cx="343.0" cy="394.2" r="9.1" fill="url(#gu)"/>
<circle cx="339.3" cy="390.7" r="4.5" fill="url(#gu)" opacity="0.8"/>
<circle cx="343.8" cy="389.2" r="4.5" fill="url(#gu)" opacity="0.8"/>
<circle cx="348.1" cy="394.9" r="4.5" fill="url(#gu)" opacity="0.8"/>
<circle cx="345.1" cy="398.9" r="4.5" fill="url(#gu)" opacity="0.8"/>
<circle cx="339.1" cy="397.6" r="4.5" fill="url(#gu)" opacity="0.8"/>
<circle cx="341.4" cy="394.0" r="6.2" fill="url(#gq)" opacity="0.9"/>
<circle cx="357.0" cy="393.0" r="7.9" fill="url(#gpU)"/>
<circle cx="361.4" cy="393.4" r="3.9" fill="url(#gpU)" opacity="0.8"/>
<circle cx="358.7" cy="397.1" r="3.9" fill="url(#gpU)" opacity="0.8"/>
<circle cx="353.9" cy="396.2" r="3.9" fill="url(#gpU)" opacity="0.8"/>
<circle cx="354.3" cy="389.5" r="3.9" fill="url(#gpU)" opacity="0.8"/>
<circle cx="358.0" cy="388.7" r="3.9" fill="url(#gpU)" opacity="0.8"/>
<circle cx="355.6" cy="393.2" r="5.4" fill="url(#gw)" opacity="0.9"/>
<circle cx="370.8" cy="389.6" r="9.7" fill="url(#gu)"/>
<circle cx="370.1" cy="384.2" r="4.8" fill="url(#gu)" opacity="0.8"/>
<circle cx="375.4" cy="386.6" r="4.8" fill="url(#gu)" opacity="0.8"/>
<circle cx="374.6" cy="393.5" r="4.8" fill="url(#gu)" opacity="0.8"/>
<circle cx="368.2" cy="394.4" r="4.8" fill="url(#gu)" opacity="0.8"/>
<circle cx="365.6" cy="387.8" r="4.8" fill="url(#gu)" opacity="0.8"/>
<circle cx="372.2" cy="390.7" r="6.6" fill="url(#gw)" opacity="0.9"/>
<circle cx="400.8" cy="393.0" r="8.5" fill="url(#gu)"/>
<circle cx="396.1" cy="391.9" r="4.2" fill="url(#gu)" opacity="0.8"/>
<circle cx="400.5" cy="388.2" r="4.2" fill="url(#gu)" opacity="0.8"/>
<circle cx="405.6" cy="392.6" r="4.2" fill="url(#gu)" opacity="0.8"/>
<circle cx="403.3" cy="397.0" r="4.2" fill="url(#gu)" opacity="0.8"/>
<circle cx="397.6" cy="396.6" r="4.2" fill="url(#gu)" opacity="0.8"/>
<circle cx="400.9" cy="391.5" r="5.8" fill="url(#gw)" opacity="0.9"/>
<circle cx="393.8" cy="401.0" r="7.9" fill="url(#gu)"/>
<circle cx="397.5" cy="398.6" r="3.9" fill="url(#gu)" opacity="0.8"/>
<circle cx="397.0" cy="404.1" r="3.9" fill="url(#gu)" opacity="0.8"/>
<circle cx="392.1" cy="405.1" r="3.9" fill="url(#gu)" opacity="0.8"/>
<circle cx="389.4" cy="400.6" r="3.9" fill="url(#gu)" opacity="0.8"/>
<circle cx="393.3" cy="396.6" r="3.9" fill="url(#gu)" opacity="0.8"/>
<circle cx="400.8" cy="422.0" r="9.7" fill="url(#gv)"/>
<circle cx="395.6" cy="423.5" r="4.8" fill="url(#gv)" opacity="0.8"/>
<circle cx="397.6" cy="417.6" r="4.8" fill="url(#gv)" opacity="0.8"/>
<circle cx="405.1" cy="418.6" r="4.8" fill="url(#gv)" opacity="0.8"/>
<circle cx="405.7" cy="424.4" r="4.8" fill="url(#gv)" opacity="0.8"/>
<circle cx="399.5" cy="427.3" r="4.8" fill="url(#gv)" opacity="0.8"/>
<circle cx="404.0" cy="437.0" r="9.1" fill="url(#gu)"/>
<circle cx="408.5" cy="434.5" r="4.5" fill="url(#gu)" opacity="0.8"/>
<circle cx="407.1" cy="441.1" r="4.5" fill="url(#gu)" opacity="0.8"/>
<circle cx="400.2" cy="440.4" r="4.5" fill="url(#gu)" opacity="0.8"/>
<circle cx="399.4" cy="434.7" r="4.5" fill="url(#gu)" opacity="0.8"/>
<circle cx="402.6" cy="432.1" r="4.5" fill="url(#gu)" opacity="0.8"/>
<circle cx="405.2" cy="438.1" r="6.2" fill="url(#gbU)" opacity="0.95"/>
<circle cx="385.8" cy="435.8" r="6.1" fill="url(#gu)"/>
<circle cx="383.0" cy="437.8" r="3.0" fill="url(#gu)" opacity="0.8"/>
<circle cx="383.3" cy="433.5" r="3.0" fill="url(#gu)" opacity="0.8"/>
<circle cx="386.9" cy="432.6" r="3.0" fill="url(#gu)" opacity="0.8"/>
<circle cx="389.0" cy="437.0" r="3.0" fill="url(#gu)" opacity="0.8"/>
<circle cx="385.4" cy="439.2" r="3.0" fill="url(#gu)" opacity="0.8"/>
<circle cx="378.8" cy="437.0" r="6.7" fill="url(#gpU)"/>
<circle cx="381.3" cy="434.2" r="3.3" fill="url(#gpU)" opacity="0.8"/>
<circle cx="381.6" cy="439.5" r="3.3" fill="url(#gpU)" opacity="0.8"/>
<circle cx="377.4" cy="440.5" r="3.3" fill="url(#gpU)" opacity="0.8"/>
<circle cx="375.2" cy="437.9" r="3.3" fill="url(#gpU)" opacity="0.8"/>
<circle cx="378.4" cy="433.3" r="3.3" fill="url(#gpU)" opacity="0.8"/>
<circle cx="380.0" cy="436.8" r="4.5" fill="url(#gw)" opacity="0.9"/>
<circle cx="318.8" cy="422.0" r="9.7" fill="url(#gv)"/>
<circle cx="318.4" cy="427.4" r="4.8" fill="url(#gv)" opacity="0.8"/>
<circle cx="314.2" cy="424.9" r="4.8" fill="url(#gv)" opacity="0.8"/>
<circle cx="314.8" cy="418.3" r="4.8" fill="url(#gv)" opacity="0.8"/>
<circle cx="322.4" cy="417.9" r="4.8" fill="url(#gv)" opacity="0.8"/>
<circle cx="324.0" cy="423.7" r="4.8" fill="url(#gv)" opacity="0.8"/>
<circle cx="327.0" cy="428.8" r="8.5" fill="url(#gu)"/>
<circle cx="329.7" cy="432.7" r="4.2" fill="url(#gu)" opacity="0.8"/>
<circle cx="323.9" cy="432.4" r="4.2" fill="url(#gu)" opacity="0.8"/>
<circle cx="322.4" cy="427.4" r="4.2" fill="url(#gu)" opacity="0.8"/>
<circle cx="326.5" cy="424.1" r="4.2" fill="url(#gu)" opacity="0.8"/>
<circle cx="331.5" cy="427.2" r="4.2" fill="url(#gu)" opacity="0.8"/>
<circle cx="326.7" cy="427.3" r="5.8" fill="url(#gq)" opacity="0.9"/>
<circle cx="339.6" cy="427.7" r="8.5" fill="url(#gu)"/>
<circle cx="344.3" cy="428.4" r="4.2" fill="url(#gu)" opacity="0.8"/>
<circle cx="340.7" cy="432.4" r="4.2" fill="url(#gu)" opacity="0.8"/>
<circle cx="336.3" cy="431.1" r="4.2" fill="url(#gu)" opacity="0.8"/>
<circle cx="335.8" cy="424.8" r="4.2" fill="url(#gu)" opacity="0.8"/>
<circle cx="341.9" cy="423.5" r="4.2" fill="url(#gu)" opacity="0.8"/>
<circle cx="338.1" cy="427.6" r="5.8" fill="url(#gw)" opacity="0.9"/>
<circle cx="315.4" cy="441.5" r="9.1" fill="url(#gu)"/>
<circle cx="319.3" cy="444.8" r="4.5" fill="url(#gu)" opacity="0.8"/>
<circle cx="314.1" cy="446.4" r="4.5" fill="url(#gu)" opacity="0.8"/>
<circle cx="310.3" cy="441.2" r="4.5" fill="url(#gu)" opacity="0.8"/>
<circle cx="311.8" cy="437.8" r="4.5" fill="url(#gu)" opacity="0.8"/>
<circle cx="318.2" cy="437.2" r="4.5" fill="url(#gu)" opacity="0.8"/>
<circle cx="325.8" cy="439.0" r="8.5" fill="url(#gu)"/>
<circle cx="330.2" cy="440.9" r="4.2" fill="url(#gu)" opacity="0.8"/>
<circle cx="326.8" cy="443.7" r="4.2" fill="url(#gu)" opacity="0.8"/>
<circle cx="321.9" cy="441.7" r="4.2" fill="url(#gu)" opacity="0.8"/>
<circle cx="322.6" cy="435.5" r="4.2" fill="url(#gu)" opacity="0.8"/>
<circle cx="329.3" cy="435.7" r="4.2" fill="url(#gu)" opacity="0.8"/>
<circle cx="326.4" cy="437.6" r="5.8" fill="url(#gq)" opacity="0.9"/>
<circle cx="336.0" cy="441.5" r="8.5" fill="url(#gu)"/>
<circle cx="336.7" cy="446.2" r="4.2" fill="url(#gu)" opacity="0.8"/>
<circle cx="331.2" cy="441.5" r="4.2" fill="url(#gu)" opacity="0.8"/>
<circle cx="333.6" cy="437.4" r="4.2" fill="url(#gu)" opacity="0.8"/>
<circle cx="339.4" cy="438.2" r="4.2" fill="url(#gu)" opacity="0.8"/>
<circle cx="340.7" cy="442.1" r="4.2" fill="url(#gu)" opacity="0.8"/>
<circle cx="328.0" cy="450.8" r="8.5" fill="url(#gu)"/>
<circle cx="332.2" cy="453.0" r="4.2" fill="url(#gu)" opacity="0.8"/>
<circle cx="328.0" cy="455.6" r="4.2" fill="url(#gu)" opacity="0.8"/>
<circle cx="323.9" cy="453.2" r="4.2" fill="url(#gu)" opacity="0.8"/>
<circle cx="326.5" cy="446.3" r="4.2" fill="url(#gu)" opacity="0.8"/>
<circle cx="331.3" cy="447.3" r="4.2" fill="url(#gu)" opacity="0.8"/>
<circle cx="328.5" cy="449.3" r="5.8" fill="url(#gw)" opacity="0.9"/>
<circle cx="344.0" cy="449.6" r="8.5" fill="url(#gu)"/>
<circle cx="347.5" cy="452.8" r="4.2" fill="url(#gu)" opacity="0.8"/>
<circle cx="344.2" cy="454.4" r="4.2" fill="url(#gu)" opacity="0.8"/>
<circle cx="339.3" cy="449.1" r="4.2" fill="url(#gu)" opacity="0.8"/>
<circle cx="341.9" cy="445.3" r="4.2" fill="url(#gu)" opacity="0.8"/>
<circle cx="347.2" cy="446.1" r="4.2" fill="url(#gu)" opacity="0.8"/>
<circle cx="342.5" cy="449.1" r="5.8" fill="url(#gq)" opacity="0.9"/>
</g></g>
<rect x="384" y="454" width="18.5" height="3" fill="#fff"/>
<text x="295" y="369.4" font-size="9" font-weight="bold" font-style="italic" text-anchor="end" fill="#fff" stroke="#fff" stroke-width="0.25">BCR-ABL1/GFP</text>
<text x="421.5" y="369.7" font-size="9" font-weight="bold" font-style="italic" text-anchor="end" fill="#fff" stroke="#fff" stroke-width="0.25">BCR-ABL1/I<tspan font-weight="normal">&#954;</tspan>B<tspan font-weight="normal">&#945;</tspan>SR</text>
<g id="panelH">
<text x="438.4" y="298.9" font-size="11" font-weight="bold" font-style="normal" text-anchor="start" fill="#000" stroke="#000" stroke-width="0.25">H</text>
<line x1="467.4" y1="326.5" x2="467.4" y2="423.55" stroke="#000" stroke-width="1.5" stroke-linecap="butt"/>
<line x1="467.4" y1="422.8" x2="506.3" y2="422.8" stroke="#000" stroke-width="1.5" stroke-linecap="butt"/>
<line x1="463.4" y1="422.8" x2="467.4" y2="422.8" stroke="#000" stroke-width="1.4" stroke-linecap="butt"/>
<text x="463.09999999999997" y="426.1" font-size="9" font-weight="bold" font-style="normal" text-anchor="end" fill="#000" stroke="#000" stroke-width="0.25">0</text>
<line x1="463.4" y1="398.9" x2="467.4" y2="398.9" stroke="#000" stroke-width="1.4" stroke-linecap="butt"/>
<text x="463.09999999999997" y="402.2" font-size="9" font-weight="bold" font-style="normal" text-anchor="end" fill="#000" stroke="#000" stroke-width="0.25">25</text>
<line x1="463.4" y1="375.0" x2="467.4" y2="375.0" stroke="#000" stroke-width="1.4" stroke-linecap="butt"/>
<text x="463.09999999999997" y="378.3" font-size="9" font-weight="bold" font-style="normal" text-anchor="end" fill="#000" stroke="#000" stroke-width="0.25">50</text>
<line x1="463.4" y1="351.1" x2="467.4" y2="351.1" stroke="#000" stroke-width="1.4" stroke-linecap="butt"/>
<text x="463.09999999999997" y="354.40000000000003" font-size="9" font-weight="bold" font-style="normal" text-anchor="end" fill="#000" stroke="#000" stroke-width="0.25">75</text>
<line x1="463.4" y1="327.2" x2="467.4" y2="327.2" stroke="#000" stroke-width="1.4" stroke-linecap="butt"/>
<text x="463.09999999999997" y="330.5" font-size="9" font-weight="bold" font-style="normal" text-anchor="end" fill="#000" stroke="#000" stroke-width="0.25">100</text>
<rect x="470" y="326.7" width="14.2" height="96.10000000000002" fill="#000"/>
<rect x="489" y="397.1" width="14" height="25.69999999999999" fill="#000"/>
<line x1="477.1" y1="327" x2="477.1" y2="306.7" stroke="#000" stroke-width="1.5" stroke-linecap="butt"/>
<line x1="473.40000000000003" y1="306.7" x2="480.8" y2="306.7" stroke="#000" stroke-width="1.5" stroke-linecap="butt"/>
<line x1="496" y1="397.1" x2="496" y2="391.5" stroke="#000" stroke-width="1.5" stroke-linecap="butt"/>
<line x1="492.3" y1="391.5" x2="499.7" y2="391.5" stroke="#000" stroke-width="1.5" stroke-linecap="butt"/>
<line x1="477.1" y1="422.8" x2="477.1" y2="427.2" stroke="#000" stroke-width="1.4" stroke-linecap="butt"/>
<line x1="496" y1="422.8" x2="496" y2="427.2" stroke="#000" stroke-width="1.4" stroke-linecap="butt"/>
<polyline points="477.1,303.4 477.1,299 496.4,299 496.4,388.5" fill="none" stroke="#000" stroke-width="1.4" stroke-linejoin="miter" stroke-linecap="butt"/>
<text x="486.9" y="301.4" font-size="15" font-weight="bold" font-style="normal" text-anchor="middle" fill="#000" stroke="#000" stroke-width="0.25">*</text>
<text transform="translate(446.4 377.5) rotate(-90)" font-size="10" font-weight="bold" stroke="#000" stroke-width="0.25" text-anchor="middle">Relative MFI (%)</text>
<text transform="translate(474.3 434.3) rotate(33)" font-size="7.6" font-weight="bold" font-style="italic" stroke="#000" stroke-width="0.25">GFP</text>
<text transform="translate(492.6 432.6) rotate(34)" font-size="7.6" font-weight="bold" font-style="italic" stroke="#000" stroke-width="0.25">I<tspan font-weight="normal">&#954;</tspan>B<tspan font-weight="normal">&#945;</tspan>SR</text>
<polyline points="467.6,445.3 467.6,449.8 505.5,449.8 505.5,445.3" fill="none" stroke="#000" stroke-width="1.4" stroke-linejoin="miter" stroke-linecap="butt"/>
<text x="490.6" y="461.3" font-size="8.8" font-weight="bold" font-style="italic" text-anchor="middle" fill="#000" stroke="#000" stroke-width="0.25">BCR-ABL1 +</text>
</g>
</svg>
</body></html>
